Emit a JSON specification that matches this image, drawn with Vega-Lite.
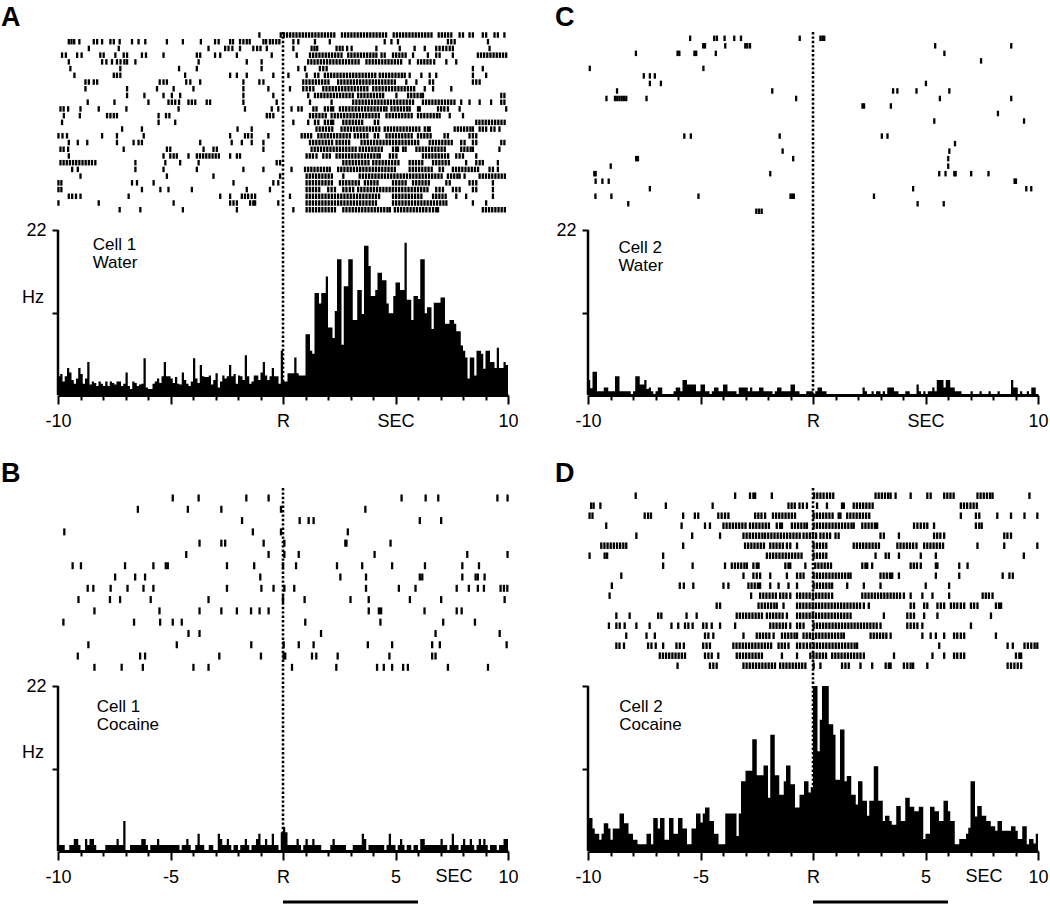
{
"$schema":"https://vega.github.io/schema/vega-lite/v6.json",
"usermeta":{"embedOptions":{"actions":false}},
"background":"white",
"padding":{"left":1,"top":3,"right":2,"bottom":2},
"config":{"view":{"stroke":null},"font":"Liberation Sans",
"axis":{"grid":false,"domainColor":"black","tickColor":"black","labelColor":"black","labelFont":"Liberation Sans","labelFontSize":18,"tickWidth":2,"labelFlush":false,"labelOverlap":false,"labelBound":false},
"axisX":{"domainWidth":3,"tickSize":{"condition":{"test":"datum.value % 5 === 0","value":9},"value":5},"labelPadding":8},
"axisY":{"domain":false,"tickSize":6,"labelPadding":6},
"title":{"font":"Liberation Sans","fontSize":27,"fontWeight":"bold","color":"black","anchor":"start"}},
"datasets":{
"hA":[{"t":-10,"h":2.5},{"t":-9.9,"h":2.8},{"t":-9.8,"h":1.8},{"t":-9.7,"h":2.5},{"t":-9.6,"h":3.6},{"t":-9.5,"h":3.0},{"t":-9.4,"h":2.0},{"t":-9.3,"h":1.5},{"t":-9.2,"h":2.2},{"t":-9.1,"h":3.6},{"t":-9,"h":2.8},{"t":-8.9,"h":1.5},{"t":-8.8,"h":2.2},{"t":-8.7,"h":4.4},{"t":-8.6,"h":1.4},{"t":-8.5,"h":1.8},{"t":-8.4,"h":1.6},{"t":-8.3,"h":1.2},{"t":-8.2,"h":1.8},{"t":-8.1,"h":1.5},{"t":-8,"h":1.2},{"t":-7.9,"h":1.8},{"t":-7.8,"h":1.2},{"t":-7.7,"h":1.8},{"t":-7.6,"h":1.6},{"t":-7.5,"h":1.4},{"t":-7.4,"h":1.8},{"t":-7.3,"h":1.8},{"t":-7.2,"h":1.2},{"t":-7.1,"h":1.5},{"t":-7,"h":3.0},{"t":-6.9,"h":1.2},{"t":-6.8,"h":0.8},{"t":-6.7,"h":1.8},{"t":-6.6,"h":1.6},{"t":-6.5,"h":1.2},{"t":-6.4,"h":1.4},{"t":-6.3,"h":1.5},{"t":-6.2,"h":4.9},{"t":-6.1,"h":1.0},{"t":-6,"h":0.8},{"t":-5.9,"h":0.8},{"t":-5.8,"h":1.5},{"t":-5.7,"h":1.8},{"t":-5.6,"h":2.2},{"t":-5.5,"h":1.6},{"t":-5.4,"h":2.5},{"t":-5.3,"h":4.4},{"t":-5.2,"h":2.5},{"t":-5.1,"h":2.5},{"t":-5,"h":2.2},{"t":-4.9,"h":1.6},{"t":-4.8,"h":2.4},{"t":-4.7,"h":1.5},{"t":-4.6,"h":1.4},{"t":-4.5,"h":3.0},{"t":-4.4,"h":2.0},{"t":-4.3,"h":1.5},{"t":-4.2,"h":1.2},{"t":-4.1,"h":1.8},{"t":-4,"h":4.9},{"t":-3.9,"h":2.2},{"t":-3.8,"h":1.6},{"t":-3.7,"h":4.0},{"t":-3.6,"h":2.5},{"t":-3.5,"h":2.4},{"t":-3.4,"h":2.4},{"t":-3.3,"h":2.6},{"t":-3.2,"h":1.4},{"t":-3.1,"h":2.0},{"t":-3,"h":2.9},{"t":-2.9,"h":1.0},{"t":-2.8,"h":1.8},{"t":-2.7,"h":2.6},{"t":-2.6,"h":2.2},{"t":-2.5,"h":2.5},{"t":-2.4,"h":4.0},{"t":-2.3,"h":2.5},{"t":-2.2,"h":2.8},{"t":-2.1,"h":1.5},{"t":-2,"h":2.6},{"t":-1.9,"h":2.5},{"t":-1.8,"h":2.0},{"t":-1.7,"h":5.3},{"t":-1.6,"h":2.5},{"t":-1.5,"h":1.5},{"t":-1.4,"h":1.8},{"t":-1.3,"h":2.6},{"t":-1.2,"h":2.6},{"t":-1.1,"h":2.0},{"t":-1,"h":3.0},{"t":-0.9,"h":4.4},{"t":-0.8,"h":2.6},{"t":-0.7,"h":2.0},{"t":-0.6,"h":2.5},{"t":-0.5,"h":3.6},{"t":-0.4,"h":2.5},{"t":-0.3,"h":2.5},{"t":-0.2,"h":1.5},{"t":-0.1,"h":5.9},
{"t":0,"h":1.8},{"t":0.1,"h":1.8},{"t":0.2,"h":2.9},{"t":0.3,"h":2.9},{"t":0.4,"h":2.9},{"t":0.5,"h":5.0},{"t":0.6,"h":2.9},{"t":0.7,"h":2.6},{"t":0.8,"h":2.6},{"t":0.9,"h":2.6},{"t":1,"h":8.1},{"t":1.1,"h":8.1},{"t":1.2,"h":5.9},{"t":1.3,"h":5.5},{"t":1.4,"h":13.6},{"t":1.5,"h":13.6},{"t":1.6,"h":12.2},{"t":1.7,"h":13.6},{"t":1.8,"h":13.6},{"t":1.9,"h":15.8},{"t":2,"h":9.0},{"t":2.1,"h":9.0},{"t":2.2,"h":7.6},{"t":2.3,"h":11.2},{"t":2.4,"h":18.1},{"t":2.5,"h":18.1},{"t":2.6,"h":6.7},{"t":2.7,"h":14.5},{"t":2.8,"h":14.5},{"t":2.9,"h":18.1},{"t":3,"h":18.1},{"t":3.1,"h":10.0},{"t":3.2,"h":10.0},{"t":3.3,"h":14.0},{"t":3.4,"h":14.0},{"t":3.5,"h":10.8},{"t":3.6,"h":19.9},{"t":3.7,"h":19.9},{"t":3.8,"h":17.2},{"t":3.9,"h":13.2},{"t":4,"h":13.2},{"t":4.1,"h":14.0},{"t":4.2,"h":16.3},{"t":4.3,"h":16.3},{"t":4.4,"h":15.3},{"t":4.5,"h":15.3},{"t":4.6,"h":12.2},{"t":4.7,"h":10.9},{"t":4.8,"h":10.9},{"t":4.9,"h":13.2},{"t":5,"h":15.0},{"t":5.1,"h":15.0},{"t":5.2,"h":14.0},{"t":5.3,"h":14.0},{"t":5.4,"h":20.3},{"t":5.5,"h":12.7},{"t":5.6,"h":12.7},{"t":5.7,"h":10.0},{"t":5.8,"h":13.2},{"t":5.9,"h":13.2},{"t":6,"h":12.8},{"t":6.1,"h":18.1},{"t":6.2,"h":18.1},{"t":6.3,"h":10.9},{"t":6.4,"h":11.7},{"t":6.5,"h":11.7},{"t":6.6,"h":8.8},{"t":6.7,"h":12.3},{"t":6.8,"h":12.3},{"t":6.9,"h":12.3},{"t":7,"h":13.0},{"t":7.1,"h":13.0},{"t":7.2,"h":9.5},{"t":7.3,"h":9.5},{"t":7.4,"h":10.0},{"t":7.5,"h":10.0},{"t":7.6,"h":9.5},{"t":7.7,"h":8.5},{"t":7.8,"h":8.5},{"t":7.9,"h":6.6},{"t":8,"h":5.9},{"t":8.1,"h":5.0},{"t":8.2,"h":2.2},{"t":8.3,"h":5.0},{"t":8.4,"h":5.0},{"t":8.5,"h":2.6},{"t":8.6,"h":5.9},{"t":8.7,"h":5.9},{"t":8.8,"h":5.5},{"t":8.9,"h":3.5},{"t":9,"h":5.9},{"t":9.1,"h":5.9},{"t":9.2,"h":4.4},{"t":9.3,"h":4.4},{"t":9.4,"h":3.6},{"t":9.5,"h":6.3},{"t":9.6,"h":3.6},{"t":9.7,"h":3.6},{"t":9.8,"h":4.4},{"t":9.9,"h":4.0},{"t":10,"h":4.0}],
"hB":[{"t":-10,"h":0.8},{"t":-9.9,"h":0.8},{"t":-9.8,"h":0.8},{"t":-9.7,"h":0},{"t":-9.6,"h":0},{"t":-9.5,"h":0.8},{"t":-9.4,"h":0.8},{"t":-9.3,"h":1.6},{"t":-9.2,"h":1.6},{"t":-9.1,"h":0.8},{"t":-9,"h":0},{"t":-8.9,"h":0},{"t":-8.8,"h":1.6},{"t":-8.7,"h":0.8},{"t":-8.6,"h":1.6},{"t":-8.5,"h":1.6},{"t":-8.4,"h":0.8},{"t":-8.3,"h":0},{"t":-8.2,"h":0},{"t":-8.1,"h":0},{"t":-8,"h":0},{"t":-7.9,"h":0.8},{"t":-7.8,"h":0.8},{"t":-7.7,"h":0.8},{"t":-7.6,"h":0.8},{"t":-7.5,"h":0.8},{"t":-7.4,"h":1.6},{"t":-7.3,"h":0.8},{"t":-7.2,"h":0.8},{"t":-7.1,"h":4.0},{"t":-7,"h":0},{"t":-6.9,"h":0},{"t":-6.8,"h":0.8},{"t":-6.7,"h":0.8},{"t":-6.6,"h":0.8},{"t":-6.5,"h":0.8},{"t":-6.4,"h":0.8},{"t":-6.3,"h":1.6},{"t":-6.2,"h":1.6},{"t":-6.1,"h":0.8},{"t":-6,"h":0},{"t":-5.9,"h":0.8},{"t":-5.8,"h":0.8},{"t":-5.7,"h":0.8},{"t":-5.6,"h":1.6},{"t":-5.5,"h":0.8},{"t":-5.4,"h":0.8},{"t":-5.3,"h":0.8},{"t":-5.2,"h":0.8},{"t":-5.1,"h":0.8},{"t":-5,"h":0.8},{"t":-4.9,"h":0.8},{"t":-4.8,"h":0.8},{"t":-4.7,"h":0.8},{"t":-4.6,"h":0},{"t":-4.5,"h":0.8},{"t":-4.4,"h":0.8},{"t":-4.3,"h":1.6},{"t":-4.2,"h":0.8},{"t":-4.1,"h":0},{"t":-4,"h":0},{"t":-3.9,"h":0.8},{"t":-3.8,"h":2.3},{"t":-3.7,"h":0.8},{"t":-3.6,"h":0.8},{"t":-3.5,"h":0},{"t":-3.4,"h":0},{"t":-3.3,"h":0.8},{"t":-3.2,"h":0.8},{"t":-3.1,"h":0},{"t":-3,"h":0},{"t":-2.9,"h":2.3},{"t":-2.8,"h":1.6},{"t":-2.7,"h":0.8},{"t":-2.6,"h":0.8},{"t":-2.5,"h":1.6},{"t":-2.4,"h":0.8},{"t":-2.3,"h":0},{"t":-2.2,"h":0.8},{"t":-2.1,"h":0.8},{"t":-2,"h":0},{"t":-1.9,"h":0.8},{"t":-1.8,"h":0.8},{"t":-1.7,"h":1.6},{"t":-1.6,"h":0.8},{"t":-1.5,"h":0},{"t":-1.4,"h":0.8},{"t":-1.3,"h":0.8},{"t":-1.2,"h":1.6},{"t":-1.1,"h":2.3},{"t":-1,"h":0.8},{"t":-0.9,"h":0.8},{"t":-0.8,"h":1.6},{"t":-0.7,"h":0.8},{"t":-0.6,"h":0.8},{"t":-0.5,"h":2.3},{"t":-0.4,"h":0.8},{"t":-0.3,"h":0.8},{"t":-0.2,"h":0},{"t":-0.1,"h":2.5},
{"t":0,"h":3.2},{"t":0.1,"h":2.5},{"t":0.2,"h":0.8},{"t":0.3,"h":0.8},{"t":0.4,"h":0.8},{"t":0.5,"h":0.8},{"t":0.6,"h":1.6},{"t":0.7,"h":0.8},{"t":0.8,"h":0},{"t":0.9,"h":0.8},{"t":1,"h":1.6},{"t":1.1,"h":0.8},{"t":1.2,"h":0.8},{"t":1.3,"h":1.6},{"t":1.4,"h":0.8},{"t":1.5,"h":0.8},{"t":1.6,"h":0.8},{"t":1.7,"h":0},{"t":1.8,"h":0},{"t":1.9,"h":0},{"t":2,"h":0},{"t":2.1,"h":0.8},{"t":2.2,"h":1.6},{"t":2.3,"h":0.8},{"t":2.4,"h":0.8},{"t":2.5,"h":0.8},{"t":2.6,"h":0.8},{"t":2.7,"h":0.8},{"t":2.8,"h":0},{"t":2.9,"h":0},{"t":3,"h":0},{"t":3.1,"h":0.8},{"t":3.2,"h":0.8},{"t":3.3,"h":0.8},{"t":3.4,"h":0.8},{"t":3.5,"h":2.3},{"t":3.6,"h":1.6},{"t":3.7,"h":0},{"t":3.8,"h":0.8},{"t":3.9,"h":0.8},{"t":4,"h":0.8},{"t":4.1,"h":0.8},{"t":4.2,"h":0.8},{"t":4.3,"h":0.8},{"t":4.4,"h":0.8},{"t":4.5,"h":0},{"t":4.6,"h":0.8},{"t":4.7,"h":2.3},{"t":4.8,"h":0.8},{"t":4.9,"h":0.8},{"t":5,"h":0},{"t":5.1,"h":0.8},{"t":5.2,"h":1.6},{"t":5.3,"h":0.8},{"t":5.4,"h":0},{"t":5.5,"h":0.8},{"t":5.6,"h":0.8},{"t":5.7,"h":0},{"t":5.8,"h":0.8},{"t":5.9,"h":0.8},{"t":6,"h":0},{"t":6.1,"h":1.6},{"t":6.2,"h":1.6},{"t":6.3,"h":0.8},{"t":6.4,"h":0.8},{"t":6.5,"h":0.8},{"t":6.6,"h":0.8},{"t":6.7,"h":0.8},{"t":6.8,"h":0.8},{"t":6.9,"h":0.8},{"t":7,"h":1.6},{"t":7.1,"h":0.8},{"t":7.2,"h":0.8},{"t":7.3,"h":0},{"t":7.4,"h":0.8},{"t":7.5,"h":2.3},{"t":7.6,"h":0.8},{"t":7.7,"h":0.8},{"t":7.8,"h":0},{"t":7.9,"h":0.8},{"t":8,"h":1.6},{"t":8.1,"h":0.8},{"t":8.2,"h":0.8},{"t":8.3,"h":1.6},{"t":8.4,"h":0.8},{"t":8.5,"h":0},{"t":8.6,"h":0.8},{"t":8.7,"h":1.6},{"t":8.8,"h":0.8},{"t":8.9,"h":1.6},{"t":9,"h":0.8},{"t":9.1,"h":0},{"t":9.2,"h":0.8},{"t":9.3,"h":0.8},{"t":9.4,"h":0.8},{"t":9.5,"h":0},{"t":9.6,"h":0.8},{"t":9.7,"h":0.8},{"t":9.8,"h":1.6},{"t":9.9,"h":1.6},{"t":10,"h":1.6}],
"hC":[{"t":-10,"h":2.0},{"t":-9.9,"h":0.9},{"t":-9.8,"h":3.1},{"t":-9.7,"h":3.1},{"t":-9.6,"h":0.5},{"t":-9.5,"h":0.5},{"t":-9.4,"h":0.5},{"t":-9.3,"h":1.0},{"t":-9.2,"h":1.0},{"t":-9.1,"h":0.5},{"t":-9,"h":0.5},{"t":-8.9,"h":0.5},{"t":-8.8,"h":2.5},{"t":-8.7,"h":2.5},{"t":-8.6,"h":0.5},{"t":-8.5,"h":0.5},{"t":-8.4,"h":0.5},{"t":-8.3,"h":0.5},{"t":-8.2,"h":0.5},{"t":-8.1,"h":0},{"t":-8,"h":0.5},{"t":-7.9,"h":2.5},{"t":-7.8,"h":2.5},{"t":-7.7,"h":1.4},{"t":-7.6,"h":1.4},{"t":-7.5,"h":2.0},{"t":-7.4,"h":0.8},{"t":-7.3,"h":1.0},{"t":-7.2,"h":0.5},{"t":-7.1,"h":0},{"t":-7,"h":0.5},{"t":-6.9,"h":1.0},{"t":-6.8,"h":1.0},{"t":-6.7,"h":0},{"t":-6.6,"h":0},{"t":-6.5,"h":0},{"t":-6.4,"h":0},{"t":-6.3,"h":0},{"t":-6.2,"h":0.5},{"t":-6.1,"h":1.0},{"t":-6,"h":1.0},{"t":-5.9,"h":0.5},{"t":-5.8,"h":2.0},{"t":-5.7,"h":2.0},{"t":-5.6,"h":1.4},{"t":-5.5,"h":1.4},{"t":-5.4,"h":1.4},{"t":-5.3,"h":1.4},{"t":-5.2,"h":0.5},{"t":-5.1,"h":0.5},{"t":-5,"h":1.4},{"t":-4.9,"h":1.4},{"t":-4.8,"h":0.5},{"t":-4.7,"h":0.5},{"t":-4.6,"h":0},{"t":-4.5,"h":0.5},{"t":-4.4,"h":1.0},{"t":-4.3,"h":1.0},{"t":-4.2,"h":0.5},{"t":-4.1,"h":0.5},{"t":-4,"h":1.4},{"t":-3.9,"h":1.4},{"t":-3.8,"h":0.5},{"t":-3.7,"h":0.5},{"t":-3.6,"h":0.5},{"t":-3.5,"h":0.5},{"t":-3.4,"h":0},{"t":-3.3,"h":1.0},{"t":-3.2,"h":1.0},{"t":-3.1,"h":1.0},{"t":-3,"h":1.0},{"t":-2.9,"h":0.5},{"t":-2.8,"h":1.0},{"t":-2.7,"h":0.5},{"t":-2.6,"h":0.5},{"t":-2.5,"h":0.5},{"t":-2.4,"h":1.0},{"t":-2.3,"h":1.0},{"t":-2.2,"h":0.5},{"t":-2.1,"h":0.5},{"t":-2,"h":0.5},{"t":-1.9,"h":0.5},{"t":-1.8,"h":0},{"t":-1.7,"h":0.5},{"t":-1.6,"h":1.0},{"t":-1.5,"h":1.0},{"t":-1.4,"h":0.5},{"t":-1.3,"h":0.5},{"t":-1.2,"h":0.5},{"t":-1.1,"h":0.5},{"t":-1,"h":1.4},{"t":-0.9,"h":1.4},{"t":-0.8,"h":0.5},{"t":-0.7,"h":0.5},{"t":-0.6,"h":0},{"t":-0.5,"h":0},{"t":-0.4,"h":0},{"t":-0.3,"h":0.5},{"t":-0.2,"h":0.5},{"t":-0.1,"h":0.5},
{"t":0,"h":0},{"t":0.1,"h":0.5},{"t":0.2,"h":1.0},{"t":0.3,"h":1.0},{"t":0.4,"h":0.5},{"t":0.5,"h":0.5},{"t":0.6,"h":0},{"t":0.7,"h":0},{"t":0.8,"h":0},{"t":0.9,"h":0},{"t":1,"h":0},{"t":1.1,"h":0},{"t":1.2,"h":0},{"t":1.3,"h":0},{"t":1.4,"h":0},{"t":1.5,"h":0},{"t":1.6,"h":0},{"t":1.7,"h":0},{"t":1.8,"h":0},{"t":1.9,"h":0},{"t":2,"h":0},{"t":2.1,"h":0},{"t":2.2,"h":1.0},{"t":2.3,"h":0.5},{"t":2.4,"h":0},{"t":2.5,"h":0},{"t":2.6,"h":0.5},{"t":2.7,"h":0},{"t":2.8,"h":0.5},{"t":2.9,"h":0.5},{"t":3,"h":0},{"t":3.1,"h":0.5},{"t":3.2,"h":0},{"t":3.3,"h":1.0},{"t":3.4,"h":1.0},{"t":3.5,"h":1.0},{"t":3.6,"h":0.5},{"t":3.7,"h":0.5},{"t":3.8,"h":0},{"t":3.9,"h":0},{"t":4,"h":0},{"t":4.1,"h":0.5},{"t":4.2,"h":0.5},{"t":4.3,"h":0},{"t":4.4,"h":0},{"t":4.5,"h":0},{"t":4.6,"h":1.4},{"t":4.7,"h":0.5},{"t":4.8,"h":0},{"t":4.9,"h":0.5},{"t":5,"h":0},{"t":5.1,"h":0.5},{"t":5.2,"h":0.5},{"t":5.3,"h":1.0},{"t":5.4,"h":0.5},{"t":5.5,"h":2.0},{"t":5.6,"h":2.0},{"t":5.7,"h":2.0},{"t":5.8,"h":1.0},{"t":5.9,"h":2.0},{"t":6,"h":2.0},{"t":6.1,"h":1.0},{"t":6.2,"h":1.0},{"t":6.3,"h":0.5},{"t":6.4,"h":0.5},{"t":6.5,"h":0.5},{"t":6.6,"h":0},{"t":6.7,"h":0},{"t":6.8,"h":0},{"t":6.9,"h":0},{"t":7,"h":0.5},{"t":7.1,"h":0},{"t":7.2,"h":0},{"t":7.3,"h":0},{"t":7.4,"h":0.5},{"t":7.5,"h":0},{"t":7.6,"h":0},{"t":7.7,"h":0},{"t":7.8,"h":0.5},{"t":7.9,"h":0},{"t":8,"h":0},{"t":8.1,"h":0},{"t":8.2,"h":0.5},{"t":8.3,"h":0},{"t":8.4,"h":0},{"t":8.5,"h":0},{"t":8.6,"h":0},{"t":8.7,"h":0},{"t":8.8,"h":2.0},{"t":8.9,"h":1.0},{"t":9,"h":1.0},{"t":9.1,"h":0},{"t":9.2,"h":0.5},{"t":9.3,"h":0},{"t":9.4,"h":0},{"t":9.5,"h":0.5},{"t":9.6,"h":0},{"t":9.7,"h":1.0},{"t":9.8,"h":1.0},{"t":9.9,"h":0},{"t":10,"h":0}],
"hD":[{"t":-10,"h":4.4},{"t":-9.9,"h":4.4},{"t":-9.8,"h":3.0},{"t":-9.7,"h":2.3},{"t":-9.6,"h":2.3},{"t":-9.5,"h":1.5},{"t":-9.4,"h":2.3},{"t":-9.3,"h":3.7},{"t":-9.2,"h":3.7},{"t":-9.1,"h":3.0},{"t":-9,"h":1.5},{"t":-8.9,"h":3.0},{"t":-8.8,"h":3.0},{"t":-8.7,"h":3.0},{"t":-8.6,"h":5.0},{"t":-8.5,"h":5.0},{"t":-8.4,"h":3.7},{"t":-8.3,"h":3.7},{"t":-8.2,"h":2.3},{"t":-8.1,"h":2.3},{"t":-8,"h":1.5},{"t":-7.9,"h":1.5},{"t":-7.8,"h":0.9},{"t":-7.7,"h":0.9},{"t":-7.6,"h":0.9},{"t":-7.5,"h":0.9},{"t":-7.4,"h":2.3},{"t":-7.3,"h":2.3},{"t":-7.2,"h":0.9},{"t":-7.1,"h":4.4},{"t":-7,"h":4.4},{"t":-6.9,"h":3.0},{"t":-6.8,"h":4.4},{"t":-6.7,"h":4.4},{"t":-6.6,"h":1.5},{"t":-6.5,"h":1.5},{"t":-6.4,"h":4.4},{"t":-6.3,"h":4.4},{"t":-6.2,"h":2.3},{"t":-6.1,"h":2.3},{"t":-6,"h":4.4},{"t":-5.9,"h":4.4},{"t":-5.8,"h":3.0},{"t":-5.7,"h":3.0},{"t":-5.6,"h":0.9},{"t":-5.5,"h":0.9},{"t":-5.4,"h":3.0},{"t":-5.3,"h":3.0},{"t":-5.2,"h":5.0},{"t":-5.1,"h":5.0},{"t":-5,"h":3.8},{"t":-4.9,"h":5.0},{"t":-4.8,"h":5.8},{"t":-4.7,"h":5.8},{"t":-4.6,"h":4.0},{"t":-4.5,"h":4.0},{"t":-4.4,"h":2.3},{"t":-4.3,"h":2.3},{"t":-4.2,"h":0.9},{"t":-4.1,"h":0.9},{"t":-4,"h":0.9},{"t":-3.9,"h":5.0},{"t":-3.8,"h":5.0},{"t":-3.7,"h":5.0},{"t":-3.6,"h":5.0},{"t":-3.5,"h":5.0},{"t":-3.4,"h":2.0},{"t":-3.3,"h":5.0},{"t":-3.2,"h":9.3},{"t":-3.1,"h":9.3},{"t":-3,"h":10.7},{"t":-2.9,"h":10.7},{"t":-2.8,"h":10.7},{"t":-2.7,"h":14.9},{"t":-2.6,"h":14.9},{"t":-2.5,"h":10.1},{"t":-2.4,"h":10.1},{"t":-2.3,"h":10.1},{"t":-2.2,"h":11.4},{"t":-2.1,"h":11.4},{"t":-2,"h":7.1},{"t":-1.9,"h":15.5},{"t":-1.8,"h":15.5},{"t":-1.7,"h":10.1},{"t":-1.6,"h":10.1},{"t":-1.5,"h":7.5},{"t":-1.4,"h":7.5},{"t":-1.3,"h":9.3},{"t":-1.2,"h":11.4},{"t":-1.1,"h":11.4},{"t":-1,"h":8.9},{"t":-0.9,"h":8.9},{"t":-0.8,"h":5.8},{"t":-0.7,"h":5.8},{"t":-0.6,"h":7.5},{"t":-0.5,"h":7.5},{"t":-0.4,"h":9.3},{"t":-0.3,"h":9.3},{"t":-0.2,"h":7.8},{"t":-0.1,"h":8.5},
{"t":0,"h":22},{"t":0.1,"h":22},{"t":0.2,"h":13.3},{"t":0.3,"h":17.5},{"t":0.4,"h":22},{"t":0.5,"h":22},{"t":0.6,"h":22},{"t":0.7,"h":16.9},{"t":0.8,"h":16.9},{"t":0.9,"h":15.5},{"t":1,"h":9.5},{"t":1.1,"h":9.5},{"t":1.2,"h":16.2},{"t":1.3,"h":16.2},{"t":1.4,"h":9.3},{"t":1.5,"h":10.0},{"t":1.6,"h":10.0},{"t":1.7,"h":7.5},{"t":1.8,"h":7.5},{"t":1.9,"h":6.2},{"t":2,"h":9.3},{"t":2.1,"h":9.3},{"t":2.2,"h":6.7},{"t":2.3,"h":6.7},{"t":2.4,"h":4.7},{"t":2.5,"h":6.7},{"t":2.6,"h":6.7},{"t":2.7,"h":11.3},{"t":2.8,"h":11.3},{"t":2.9,"h":6.7},{"t":3,"h":6.7},{"t":3.1,"h":4.0},{"t":3.2,"h":4.7},{"t":3.3,"h":4.7},{"t":3.4,"h":4.0},{"t":3.5,"h":3.5},{"t":3.6,"h":3.5},{"t":3.7,"h":6.0},{"t":3.8,"h":6.0},{"t":3.9,"h":4.0},{"t":4,"h":4.0},{"t":4.1,"h":7.1},{"t":4.2,"h":7.1},{"t":4.3,"h":5.9},{"t":4.4,"h":5.9},{"t":4.5,"h":5.3},{"t":4.6,"h":5.3},{"t":4.7,"h":5.9},{"t":4.8,"h":5.9},{"t":4.9,"h":1.6},{"t":5,"h":2.3},{"t":5.1,"h":2.3},{"t":5.2,"h":5.9},{"t":5.3,"h":5.9},{"t":5.4,"h":5.3},{"t":5.5,"h":5.3},{"t":5.6,"h":4.0},{"t":5.7,"h":4.0},{"t":5.8,"h":6.7},{"t":5.9,"h":6.7},{"t":6,"h":5.3},{"t":6.1,"h":4.0},{"t":6.2,"h":4.0},{"t":6.3,"h":0.9},{"t":6.4,"h":0.9},{"t":6.5,"h":1.6},{"t":6.6,"h":1.6},{"t":6.7,"h":1.6},{"t":6.8,"h":2.3},{"t":6.9,"h":3.1},{"t":7,"h":9.3},{"t":7.1,"h":9.3},{"t":7.2,"h":4.6},{"t":7.3,"h":6.0},{"t":7.4,"h":6.0},{"t":7.5,"h":4.7},{"t":7.6,"h":4.7},{"t":7.7,"h":4.0},{"t":7.8,"h":4.0},{"t":7.9,"h":3.3},{"t":8,"h":3.3},{"t":8.1,"h":2.7},{"t":8.2,"h":4.0},{"t":8.3,"h":4.0},{"t":8.4,"h":2.7},{"t":8.5,"h":2.7},{"t":8.6,"h":2.7},{"t":8.7,"h":2.7},{"t":8.8,"h":3.3},{"t":8.9,"h":3.3},{"t":9,"h":2.7},{"t":9.1,"h":1.6},{"t":9.2,"h":1.6},{"t":9.3,"h":3.3},{"t":9.4,"h":3.3},{"t":9.5,"h":0.9},{"t":9.6,"h":1.6},{"t":9.7,"h":1.6},{"t":9.8,"h":1.0},{"t":9.9,"h":2.3},{"t":10,"h":2.3}],
"rB":[{"r":1,"t":-4.9},{"r":1,"t":-3.75},{"r":1,"t":-1.63},{"r":1,"t":-0.64},{"r":1,"t":5.27},{"r":1,"t":6.34},{"r":1,"t":6.9},{"r":1,"t":9.53},{"r":1,"t":9.98},
{"r":2,"t":-6.45},{"r":2,"t":-4.23},{"r":2,"t":-2.74},{"r":2,"t":-0.09},{"r":2,"t":3.66},
{"r":3,"t":-1.82},{"r":3,"t":0.74},{"r":3,"t":1.14},{"r":3,"t":1.36},{"r":3,"t":6.08},{"r":3,"t":7.03},
{"r":4,"t":-9.72},{"r":4,"t":-1.34},{"r":4,"t":-0.09},{"r":4,"t":2.88},
{"r":5,"t":-3.71},{"r":5,"t":-2.74},{"r":5,"t":-2.57},{"r":5,"t":-0.86},{"r":5,"t":0.06},{"r":5,"t":2.77},{"r":5,"t":2.82},{"r":5,"t":4.78},
{"r":6,"t":-4.3},{"r":6,"t":-0.64},{"r":6,"t":0.06},{"r":6,"t":0.7},{"r":6,"t":4.07},{"r":6,"t":8.19},{"r":6,"t":9.98},
{"r":7,"t":-9.35},{"r":7,"t":-8.98},{"r":7,"t":-7.02},{"r":7,"t":-5.76},{"r":7,"t":-5.21},{"r":7,"t":-5.12},{"r":7,"t":-2.49},{"r":7,"t":-1.28},{"r":7,"t":0},{"r":7,"t":0.58},{"r":7,"t":2.4},{"r":7,"t":3.52},{"r":7,"t":4.85},{"r":7,"t":6.31},{"r":7,"t":7.97},{"r":7,"t":8.71},
{"r":8,"t":-7.46},{"r":8,"t":-6.57},{"r":8,"t":-6.13},{"r":8,"t":-1.01},{"r":8,"t":2.55},{"r":8,"t":3.69},{"r":8,"t":6.08},{"r":8,"t":6.19},{"r":8,"t":7.97},{"r":8,"t":8.56},{"r":8,"t":8.66},{"r":8,"t":8.96},
{"r":9,"t":-8.68},{"r":9,"t":-8.43},{"r":9,"t":-7.66},{"r":9,"t":-6.91},{"r":9,"t":-6.2},{"r":9,"t":-5.76},{"r":9,"t":-2.49},{"r":9,"t":-0.96},{"r":9,"t":-0.42},{"r":9,"t":0.06},{"r":9,"t":0.5},{"r":9,"t":3.69},{"r":9,"t":5.15},{"r":9,"t":5.89},{"r":9,"t":7.72},{"r":9,"t":8.26},{"r":9,"t":8.66},{"r":9,"t":8.93},{"r":9,"t":9.67},{"r":9,"t":9.82},{"r":9,"t":9.97},
{"r":10,"t":-9.09},{"r":10,"t":-7.69},{"r":10,"t":-7.24},{"r":10,"t":-5.88},{"r":10,"t":-3.31},{"r":10,"t":0},{"r":10,"t":0.96},{"r":10,"t":3.0},{"r":10,"t":3.81},{"r":10,"t":5.64},{"r":10,"t":7.03},{"r":10,"t":9.85},
{"r":11,"t":-8.38},{"r":11,"t":-5.49},{"r":11,"t":-3.71},{"r":11,"t":-2.74},{"r":11,"t":-2.05},{"r":11,"t":-1.42},{"r":11,"t":-1.04},{"r":11,"t":-0.64},{"r":11,"t":3.81},{"r":11,"t":4.26},{"r":11,"t":4.36},{"r":11,"t":6.29},{"r":11,"t":7.72},{"r":11,"t":7.94},
{"r":12,"t":-9.76},{"r":12,"t":-6.62},{"r":12,"t":-5.46},{"r":12,"t":-4.9},{"r":12,"t":-4.5},{"r":12,"t":0.99},{"r":12,"t":4.33},{"r":12,"t":7.12},{"r":12,"t":8.53},
{"r":13,"t":-4.2},{"r":13,"t":-3.71},{"r":13,"t":1.69},{"r":13,"t":6.78},{"r":13,"t":9.63},
{"r":14,"t":-8.65},{"r":14,"t":-4.72},{"r":14,"t":-1.41},{"r":14,"t":0.03},{"r":14,"t":0.7},{"r":14,"t":1.36},{"r":14,"t":3.77},{"r":14,"t":4.85},{"r":14,"t":6.63},{"r":14,"t":6.97},{"r":14,"t":9.94},
{"r":15,"t":-9.12},{"r":15,"t":-6.35},{"r":15,"t":-6.13},{"r":15,"t":-2.83},{"r":15,"t":-0.98},{"r":15,"t":0.03},{"r":15,"t":0.1},{"r":15,"t":1.29},{"r":15,"t":1.48},{"r":15,"t":2.43},{"r":15,"t":4.73},{"r":15,"t":6.63},{"r":15,"t":6.78},
{"r":16,"t":-8.38},{"r":16,"t":-7.17},{"r":16,"t":-6.23},{"r":16,"t":-3.98},{"r":16,"t":-3.31},{"r":16,"t":0.4},{"r":16,"t":2.37},{"r":16,"t":4.18},{"r":16,"t":4.48},{"r":16,"t":4.85},{"r":16,"t":5.34},{"r":16,"t":5.55},{"r":16,"t":7.33},{"r":16,"t":9.11}],
"rC":[{"r":1,"t":-5.46},{"r":1,"t":-4.39},{"r":1,"t":-4.27},{"r":1,"t":-3.93},{"r":1,"t":-3.5},{"r":1,"t":-3.2},{"r":1,"t":-0.59},{"r":1,"t":0.33},{"r":1,"t":0.42},{"r":1,"t":0.5},
{"r":2,"t":-4.88},{"r":2,"t":-4.8},{"r":2,"t":-3.9},{"r":2,"t":-3.01},{"r":2,"t":-2.92},{"r":2,"t":-2.8},{"r":2,"t":5.43},{"r":2,"t":8.81},
{"r":3,"t":-7.87},{"r":3,"t":-6.02},{"r":3,"t":-5.94},{"r":3,"t":-5.27},{"r":3,"t":-5.19},{"r":3,"t":-4.32},{"r":3,"t":5.84},
{"r":4,"t":7.47},
{"r":5,"t":-9.92},{"r":5,"t":-4.87},
{"r":6,"t":-7.52},{"r":6,"t":-7.25},{"r":6,"t":-7.03},
{"r":7,"t":-7.25},{"r":7,"t":-6.76},{"r":7,"t":5.02},
{"r":8,"t":-8.71},{"r":8,"t":-1.81},{"r":8,"t":3.56},{"r":8,"t":3.75},{"r":8,"t":4.6},{"r":8,"t":6.06},
{"r":9,"t":-9.18},{"r":9,"t":-8.8},{"r":9,"t":-8.7},{"r":9,"t":-8.6},{"r":9,"t":-8.5},{"r":9,"t":-8.4},{"r":9,"t":-8.3},{"r":9,"t":-7.4},{"r":9,"t":-0.75},{"r":9,"t":5.64},{"r":9,"t":8.81},
{"r":10,"t":2.2},{"r":10,"t":2.27},{"r":10,"t":3.46},
{"r":11,"t":8.22},
{"r":12,"t":5.39},{"r":12,"t":9.38},
{"r":14,"t":-5.72},{"r":14,"t":-5.43},{"r":14,"t":-1.48},{"r":14,"t":3.06},{"r":14,"t":3.31},
{"r":15,"t":6.31},
{"r":16,"t":-1.35},{"r":16,"t":6.06},
{"r":17,"t":-7.86},{"r":17,"t":-7.78},{"r":17,"t":-0.88},{"r":17,"t":6.01},
{"r":18,"t":-8.99},{"r":18,"t":6.01},
{"r":19,"t":-9.72},{"r":19,"t":-9.66},{"r":19,"t":-1.9},{"r":19,"t":5.61},{"r":19,"t":5.89},{"r":19,"t":6.28},{"r":19,"t":6.34},{"r":19,"t":7.03},{"r":19,"t":7.8},
{"r":20,"t":-9.66},{"r":20,"t":-9.36},{"r":20,"t":-9.08},{"r":20,"t":8.96},{"r":20,"t":9.02},
{"r":21,"t":-7.25},{"r":21,"t":4.45},{"r":21,"t":9.48},{"r":21,"t":9.7},
{"r":22,"t":-9.67},{"r":22,"t":-8.96},{"r":22,"t":-5.09},{"r":22,"t":-1.0},{"r":22,"t":-0.92},{"r":22,"t":-0.85},{"r":22,"t":2.71},
{"r":23,"t":-8.21},{"r":23,"t":4.65},{"r":23,"t":5.81},
{"r":24,"t":-2.52},{"r":24,"t":-2.4},{"r":24,"t":-2.28}],
"rD":[{"r":1,"t":-7.88},{"r":1,"t":-3.46},{"r":1,"t":-2.8},{"r":1,"t":-2.65},{"r":1,"t":-2.57},{"r":1,"t":-1.83},{"r":1,"t":0.05},{"r":1,"t":0.19},{"r":1,"t":0.33},{"r":1,"t":0.47},{"r":1,"t":0.62},{"r":1,"t":0.76},{"r":1,"t":0.9},{"r":1,"t":2.78},{"r":1,"t":2.92},{"r":1,"t":3.06},{"r":1,"t":3.2},{"r":1,"t":3.34},{"r":1,"t":3.45},{"r":1,"t":3.67},{"r":1,"t":4.34},{"r":1,"t":5.08},{"r":1,"t":5.23},{"r":1,"t":5.83},{"r":1,"t":5.97},{"r":1,"t":6.11},{"r":1,"t":6.25},{"r":1,"t":7.31},{"r":1,"t":7.45},{"r":1,"t":7.59},{"r":1,"t":7.73},{"r":1,"t":7.87},{"r":1,"t":7.98},{"r":1,"t":9.62},
{"r":2,"t":-9.86},{"r":2,"t":-9.75},{"r":2,"t":-9.45},{"r":2,"t":-6.54},{"r":2,"t":-4.46},{"r":2,"t":-1.09},{"r":2,"t":-0.95},{"r":2,"t":-0.81},{"r":2,"t":-0.6},{"r":2,"t":-0.45},{"r":2,"t":-0.27},{"r":2,"t":0.18},{"r":2,"t":0.62},{"r":2,"t":1.29},{"r":2,"t":1.37},{"r":2,"t":1.81},{"r":2,"t":1.95},{"r":2,"t":2.09},{"r":2,"t":2.23},{"r":2,"t":2.37},{"r":2,"t":2.51},{"r":2,"t":2.65},{"r":2,"t":6.57},{"r":2,"t":6.71},{"r":2,"t":6.85},{"r":2,"t":7.0},{"r":2,"t":7.14},{"r":2,"t":7.28},
{"r":3,"t":-9.93},{"r":3,"t":-9.8},{"r":3,"t":-7.48},{"r":3,"t":-7.33},{"r":3,"t":-7.2},{"r":3,"t":-5.77},{"r":3,"t":-5.25},{"r":3,"t":-5.1},{"r":3,"t":-4.21},{"r":3,"t":-4.06},{"r":3,"t":-3.91},{"r":3,"t":-3.76},{"r":3,"t":-2.57},{"r":3,"t":-2.43},{"r":3,"t":-2.29},{"r":3,"t":-2.13},{"r":3,"t":-1.78},{"r":3,"t":-1.64},{"r":3,"t":-1.5},{"r":3,"t":-1.36},{"r":3,"t":-1.22},{"r":3,"t":-1.08},{"r":3,"t":-0.94},{"r":3,"t":-0.8},{"r":3,"t":0.03},{"r":3,"t":0.17},{"r":3,"t":0.31},{"r":3,"t":0.45},{"r":3,"t":0.59},{"r":3,"t":0.73},{"r":3,"t":0.87},{"r":3,"t":1.14},{"r":3,"t":1.22},{"r":3,"t":1.52},{"r":3,"t":1.66},{"r":3,"t":1.8},{"r":3,"t":1.94},{"r":3,"t":2.08},{"r":3,"t":2.22},{"r":3,"t":2.36},{"r":3,"t":2.5},{"r":3,"t":6.57},{"r":3,"t":7.24},{"r":3,"t":7.39},{"r":3,"t":8.19},{"r":3,"t":8.8},{"r":3,"t":9.4},{"r":3,"t":9.97},
{"r":4,"t":-9.19},{"r":4,"t":-5.84},{"r":4,"t":-4.8},{"r":4,"t":-4.58},{"r":4,"t":-3.98},{"r":4,"t":-3.84},{"r":4,"t":-3.7},{"r":4,"t":-3.56},{"r":4,"t":-3.42},{"r":4,"t":-3.28},{"r":4,"t":-3.14},{"r":4,"t":-3.0},{"r":4,"t":-2.8},{"r":4,"t":-2.66},{"r":4,"t":-2.52},{"r":4,"t":-2.38},{"r":4,"t":-2.24},{"r":4,"t":-2.1},{"r":4,"t":-1.96},{"r":4,"t":-1.61},{"r":4,"t":-1.46},{"r":4,"t":-1.38},{"r":4,"t":-0.94},{"r":4,"t":-0.8},{"r":4,"t":-0.66},{"r":4,"t":-0.52},{"r":4,"t":-0.38},{"r":4,"t":-0.27},{"r":4,"t":0.03},{"r":4,"t":0.17},{"r":4,"t":0.31},{"r":4,"t":0.45},{"r":4,"t":0.59},{"r":4,"t":0.73},{"r":4,"t":0.87},{"r":4,"t":1.01},{"r":4,"t":1.15},{"r":4,"t":1.29},{"r":4,"t":1.43},{"r":4,"t":1.57},{"r":4,"t":1.71},{"r":4,"t":1.81},{"r":4,"t":2.19},{"r":4,"t":2.33},{"r":4,"t":2.47},{"r":4,"t":2.61},{"r":4,"t":2.75},{"r":4,"t":2.85},{"r":4,"t":4.49},{"r":4,"t":4.64},{"r":4,"t":4.79},{"r":4,"t":4.94},{"r":4,"t":5.08},{"r":4,"t":5.38},{"r":4,"t":7.24},{"r":4,"t":7.39},{"r":4,"t":7.5},
{"r":5,"t":-7.85},{"r":5,"t":-5.37},{"r":5,"t":-4.13},{"r":5,"t":-3.09},{"r":5,"t":-2.95},{"r":5,"t":-2.81},{"r":5,"t":-2.67},{"r":5,"t":-2.53},{"r":5,"t":-2.39},{"r":5,"t":-2.25},{"r":5,"t":-2.13},{"r":5,"t":-1.99},{"r":5,"t":-1.85},{"r":5,"t":-1.71},{"r":5,"t":-1.57},{"r":5,"t":-1.43},{"r":5,"t":-1.29},{"r":5,"t":-1.15},{"r":5,"t":-1.01},{"r":5,"t":-0.87},{"r":5,"t":-0.73},{"r":5,"t":-0.59},{"r":5,"t":-0.42},{"r":5,"t":-0.28},{"r":5,"t":-0.14},{"r":5,"t":0.0},{"r":5,"t":0.14},{"r":5,"t":0.33},{"r":5,"t":0.47},{"r":5,"t":0.62},{"r":5,"t":0.76},{"r":5,"t":1.0},{"r":5,"t":1.14},{"r":5,"t":3.0},{"r":5,"t":3.15},{"r":5,"t":3.82},{"r":5,"t":5.38},{"r":5,"t":5.52},{"r":5,"t":5.66},{"r":5,"t":5.83},{"r":5,"t":8.5},{"r":5,"t":8.64},{"r":5,"t":8.8},
{"r":6,"t":-9.41},{"r":6,"t":-9.27},{"r":6,"t":-9.13},{"r":6,"t":-8.99},{"r":6,"t":-8.85},{"r":6,"t":-8.71},{"r":6,"t":-8.57},{"r":6,"t":-8.43},{"r":6,"t":-8.3},{"r":6,"t":-5.77},{"r":6,"t":-3.02},{"r":6,"t":-2.88},{"r":6,"t":-2.74},{"r":6,"t":-2.6},{"r":6,"t":-2.46},{"r":6,"t":-2.32},{"r":6,"t":-2.18},{"r":6,"t":-1.9},{"r":6,"t":-1.76},{"r":6,"t":-1.62},{"r":6,"t":-1.48},{"r":6,"t":-1.34},{"r":6,"t":-1.16},{"r":6,"t":-1.01},{"r":6,"t":-0.71},{"r":6,"t":0.03},{"r":6,"t":0.17},{"r":6,"t":0.31},{"r":6,"t":0.45},{"r":6,"t":0.59},{"r":6,"t":1.81},{"r":6,"t":1.95},{"r":6,"t":2.09},{"r":6,"t":2.23},{"r":6,"t":2.37},{"r":6,"t":2.51},{"r":6,"t":2.65},{"r":6,"t":2.79},{"r":6,"t":2.93},{"r":6,"t":3.75},{"r":6,"t":3.89},{"r":6,"t":4.03},{"r":6,"t":4.17},{"r":6,"t":4.31},{"r":6,"t":4.45},{"r":6,"t":4.6},{"r":6,"t":4.94},{"r":6,"t":5.08},{"r":6,"t":5.22},{"r":6,"t":5.36},{"r":6,"t":5.5},{"r":6,"t":5.64},{"r":6,"t":5.78},{"r":6,"t":7.31},{"r":6,"t":8.5},{"r":6,"t":9.97},
{"r":7,"t":-9.93},{"r":7,"t":-9.26},{"r":7,"t":-9.15},{"r":7,"t":-6.66},{"r":7,"t":-2.05},{"r":7,"t":-1.91},{"r":7,"t":-1.77},{"r":7,"t":-1.63},{"r":7,"t":-1.49},{"r":7,"t":-1.35},{"r":7,"t":-1.21},{"r":7,"t":-1.07},{"r":7,"t":-0.93},{"r":7,"t":-0.79},{"r":7,"t":-0.65},{"r":7,"t":-0.51},{"r":7,"t":0.03},{"r":7,"t":0.17},{"r":7,"t":0.31},{"r":7,"t":0.45},{"r":7,"t":0.59},{"r":7,"t":2.78},{"r":7,"t":3.23},{"r":7,"t":3.37},{"r":7,"t":3.82},{"r":7,"t":4.79},{"r":7,"t":5.46},{"r":7,"t":9.37},
{"r":8,"t":-6.66},{"r":8,"t":-5.35},{"r":8,"t":-3.91},{"r":8,"t":-3.61},{"r":8,"t":-3.47},{"r":8,"t":-3.33},{"r":8,"t":-3.19},{"r":8,"t":-3.05},{"r":8,"t":-2.94},{"r":8,"t":-2.65},{"r":8,"t":-2.5},{"r":8,"t":-2.42},{"r":8,"t":-1.23},{"r":8,"t":-1.09},{"r":8,"t":-1.01},{"r":8,"t":-0.34},{"r":8,"t":0.1},{"r":8,"t":0.24},{"r":8,"t":0.38},{"r":8,"t":0.52},{"r":8,"t":0.66},{"r":8,"t":0.8},{"r":8,"t":2.19},{"r":8,"t":2.33},{"r":8,"t":2.41},{"r":8,"t":2.63},{"r":8,"t":4.34},{"r":8,"t":4.48},{"r":8,"t":4.62},{"r":8,"t":4.79},{"r":8,"t":5.46},{"r":8,"t":5.53},{"r":8,"t":6.5},{"r":8,"t":6.87},
{"r":9,"t":-8.52},{"r":9,"t":-3.09},{"r":9,"t":-2.65},{"r":9,"t":-2.5},{"r":9,"t":-2.35},{"r":9,"t":-1.9},{"r":9,"t":-1.16},{"r":9,"t":-0.71},{"r":9,"t":-0.56},{"r":9,"t":-0.42},{"r":9,"t":0.03},{"r":9,"t":0.17},{"r":9,"t":0.31},{"r":9,"t":0.45},{"r":9,"t":0.59},{"r":9,"t":0.73},{"r":9,"t":0.87},{"r":9,"t":1.01},{"r":9,"t":1.15},{"r":9,"t":1.29},{"r":9,"t":1.43},{"r":9,"t":1.57},{"r":9,"t":1.67},{"r":9,"t":3.0},{"r":9,"t":3.14},{"r":9,"t":3.28},{"r":9,"t":3.42},{"r":9,"t":3.52},{"r":9,"t":3.82},{"r":9,"t":5.46},{"r":9,"t":6.5},{"r":9,"t":8.43},{"r":9,"t":8.73},{"r":9,"t":8.88},
{"r":10,"t":-8.94},{"r":10,"t":-5.92},{"r":10,"t":-5.74},{"r":10,"t":-5.32},{"r":10,"t":-3.98},{"r":10,"t":-3.76},{"r":10,"t":-2.87},{"r":10,"t":-2.73},{"r":10,"t":-2.59},{"r":10,"t":-2.45},{"r":10,"t":-2.35},{"r":10,"t":-1.9},{"r":10,"t":-1.53},{"r":10,"t":-1.09},{"r":10,"t":-0.71},{"r":10,"t":0.03},{"r":10,"t":0.17},{"r":10,"t":0.31},{"r":10,"t":0.45},{"r":10,"t":0.59},{"r":10,"t":0.73},{"r":10,"t":0.85},{"r":10,"t":1.52},{"r":10,"t":2.26},{"r":10,"t":3.0},{"r":10,"t":5.01},{"r":10,"t":6.05},
{"r":11,"t":-9.04},{"r":11,"t":-2.75},{"r":11,"t":-2.35},{"r":11,"t":-2.21},{"r":11,"t":-2.07},{"r":11,"t":-1.93},{"r":11,"t":-1.79},{"r":11,"t":-1.65},{"r":11,"t":-1.46},{"r":11,"t":-1.32},{"r":11,"t":-1.18},{"r":11,"t":-1.01},{"r":11,"t":-0.71},{"r":11,"t":-0.57},{"r":11,"t":-0.43},{"r":11,"t":-0.29},{"r":11,"t":-0.15},{"r":11,"t":0.0},{"r":11,"t":0.14},{"r":11,"t":0.28},{"r":11,"t":0.42},{"r":11,"t":0.56},{"r":11,"t":0.7},{"r":11,"t":0.85},{"r":11,"t":2.19},{"r":11,"t":2.33},{"r":11,"t":2.47},{"r":11,"t":2.61},{"r":11,"t":2.75},{"r":11,"t":2.89},{"r":11,"t":3.03},{"r":11,"t":3.17},{"r":11,"t":3.31},{"r":11,"t":3.45},{"r":11,"t":3.59},{"r":11,"t":3.73},{"r":11,"t":3.87},{"r":11,"t":4.04},{"r":11,"t":4.34},{"r":11,"t":4.86},{"r":11,"t":5.31},{"r":11,"t":6.05},{"r":11,"t":7.54},{"r":11,"t":7.68},{"r":11,"t":7.82},{"r":11,"t":7.98},
{"r":12,"t":-4.28},{"r":12,"t":-4.13},{"r":12,"t":-2.42},{"r":12,"t":-2.28},{"r":12,"t":-2.14},{"r":12,"t":-2.0},{"r":12,"t":-1.86},{"r":12,"t":-1.72},{"r":12,"t":-1.61},{"r":12,"t":-1.31},{"r":12,"t":-0.71},{"r":12,"t":-0.57},{"r":12,"t":-0.43},{"r":12,"t":-0.29},{"r":12,"t":-0.15},{"r":12,"t":-0.01},{"r":12,"t":0.13},{"r":12,"t":0.27},{"r":12,"t":0.41},{"r":12,"t":0.55},{"r":12,"t":0.69},{"r":12,"t":0.83},{"r":12,"t":0.97},{"r":12,"t":1.11},{"r":12,"t":1.25},{"r":12,"t":1.39},{"r":12,"t":1.53},{"r":12,"t":1.67},{"r":12,"t":1.81},{"r":12,"t":1.95},{"r":12,"t":2.09},{"r":12,"t":2.26},{"r":12,"t":2.48},{"r":12,"t":4.34},{"r":12,"t":4.49},{"r":12,"t":4.94},{"r":12,"t":5.08},{"r":12,"t":5.53},{"r":12,"t":5.68},{"r":12,"t":5.83},{"r":12,"t":6.13},{"r":12,"t":6.27},{"r":12,"t":6.41},{"r":12,"t":6.57},{"r":12,"t":6.72},{"r":12,"t":7.02},{"r":12,"t":7.16},{"r":12,"t":7.31},{"r":12,"t":8.13},{"r":12,"t":8.27},{"r":12,"t":8.36},
{"r":13,"t":-8.74},{"r":13,"t":-8.15},{"r":13,"t":-6.88},{"r":13,"t":-6.74},{"r":13,"t":-5.62},{"r":13,"t":-5.17},{"r":13,"t":-3.39},{"r":13,"t":-3.25},{"r":13,"t":-3.11},{"r":13,"t":-2.97},{"r":13,"t":-2.83},{"r":13,"t":-2.69},{"r":13,"t":-2.55},{"r":13,"t":-2.41},{"r":13,"t":-2.27},{"r":13,"t":-2.05},{"r":13,"t":-1.91},{"r":13,"t":-1.77},{"r":13,"t":-1.63},{"r":13,"t":-1.49},{"r":13,"t":-1.35},{"r":13,"t":-1.16},{"r":13,"t":-0.71},{"r":13,"t":-0.57},{"r":13,"t":-0.43},{"r":13,"t":-0.29},{"r":13,"t":-0.15},{"r":13,"t":-0.01},{"r":13,"t":0.13},{"r":13,"t":0.27},{"r":13,"t":0.41},{"r":13,"t":0.55},{"r":13,"t":0.69},{"r":13,"t":0.83},{"r":13,"t":0.97},{"r":13,"t":1.11},{"r":13,"t":1.25},{"r":13,"t":1.39},{"r":13,"t":1.53},{"r":13,"t":1.67},{"r":13,"t":3.15},{"r":13,"t":4.19},{"r":13,"t":4.34},{"r":13,"t":4.49},{"r":13,"t":4.94},{"r":13,"t":5.53},{"r":13,"t":7.91},
{"r":14,"t":-9.07},{"r":14,"t":-8.74},{"r":14,"t":-8.59},{"r":14,"t":-8.37},{"r":14,"t":-7.85},{"r":14,"t":-7.26},{"r":14,"t":-6.29},{"r":14,"t":-5.99},{"r":14,"t":-5.69},{"r":14,"t":-5.54},{"r":14,"t":-5.35},{"r":14,"t":-4.88},{"r":14,"t":-4.73},{"r":14,"t":-4.5},{"r":14,"t":-4.13},{"r":14,"t":-3.46},{"r":14,"t":-1.9},{"r":14,"t":-1.76},{"r":14,"t":-1.62},{"r":14,"t":-1.48},{"r":14,"t":-1.34},{"r":14,"t":-1.2},{"r":14,"t":-1.01},{"r":14,"t":-0.71},{"r":14,"t":-0.57},{"r":14,"t":-0.42},{"r":14,"t":0.03},{"r":14,"t":0.17},{"r":14,"t":0.31},{"r":14,"t":0.45},{"r":14,"t":0.59},{"r":14,"t":0.73},{"r":14,"t":0.87},{"r":14,"t":1.01},{"r":14,"t":1.15},{"r":14,"t":1.29},{"r":14,"t":1.43},{"r":14,"t":1.57},{"r":14,"t":1.71},{"r":14,"t":1.85},{"r":14,"t":1.99},{"r":14,"t":2.13},{"r":14,"t":2.27},{"r":14,"t":2.41},{"r":14,"t":2.55},{"r":14,"t":2.69},{"r":14,"t":2.83},{"r":14,"t":3.0},{"r":14,"t":4.19},{"r":14,"t":4.34},{"r":14,"t":4.49},{"r":14,"t":4.64},{"r":14,"t":4.86},{"r":14,"t":7.02},
{"r":15,"t":-8.3},{"r":15,"t":-7.4},{"r":15,"t":-7.03},{"r":15,"t":-4.8},{"r":15,"t":-4.65},{"r":15,"t":-4.43},{"r":15,"t":-3.09},{"r":15,"t":-2.5},{"r":15,"t":-2.36},{"r":15,"t":-2.22},{"r":15,"t":-2.08},{"r":15,"t":-1.94},{"r":15,"t":-1.75},{"r":15,"t":-1.38},{"r":15,"t":-1.24},{"r":15,"t":-1.1},{"r":15,"t":-0.96},{"r":15,"t":-0.82},{"r":15,"t":-0.71},{"r":15,"t":-0.42},{"r":15,"t":-0.28},{"r":15,"t":-0.14},{"r":15,"t":0.0},{"r":15,"t":0.14},{"r":15,"t":0.28},{"r":15,"t":0.42},{"r":15,"t":0.56},{"r":15,"t":0.7},{"r":15,"t":0.84},{"r":15,"t":0.98},{"r":15,"t":1.12},{"r":15,"t":1.26},{"r":15,"t":1.37},{"r":15,"t":2.56},{"r":15,"t":2.7},{"r":15,"t":2.84},{"r":15,"t":2.98},{"r":15,"t":3.12},{"r":15,"t":3.26},{"r":15,"t":3.45},{"r":15,"t":4.86},{"r":15,"t":5.23},{"r":15,"t":5.46},{"r":15,"t":5.83},{"r":15,"t":6.27},{"r":15,"t":6.41},{"r":15,"t":6.57},{"r":15,"t":6.72},{"r":15,"t":8.13},
{"r":16,"t":-8.74},{"r":16,"t":-8.6},{"r":16,"t":-8.4},{"r":16,"t":-7.33},{"r":16,"t":-7.18},{"r":16,"t":-6.99},{"r":16,"t":-6.66},{"r":16,"t":-6.07},{"r":16,"t":-5.92},{"r":16,"t":-5.74},{"r":16,"t":-4.88},{"r":16,"t":-4.73},{"r":16,"t":-4.58},{"r":16,"t":-3.54},{"r":16,"t":-3.4},{"r":16,"t":-3.26},{"r":16,"t":-3.12},{"r":16,"t":-2.98},{"r":16,"t":-2.84},{"r":16,"t":-2.7},{"r":16,"t":-2.56},{"r":16,"t":-2.42},{"r":16,"t":-2.28},{"r":16,"t":-2.14},{"r":16,"t":-2.0},{"r":16,"t":-1.86},{"r":16,"t":-1.53},{"r":16,"t":-1.39},{"r":16,"t":-1.25},{"r":16,"t":-1.09},{"r":16,"t":-0.71},{"r":16,"t":-0.57},{"r":16,"t":-0.42},{"r":16,"t":-0.27},{"r":16,"t":-0.12},{"r":16,"t":0.03},{"r":16,"t":0.17},{"r":16,"t":0.31},{"r":16,"t":0.45},{"r":16,"t":0.59},{"r":16,"t":0.73},{"r":16,"t":0.87},{"r":16,"t":1.01},{"r":16,"t":1.15},{"r":16,"t":1.29},{"r":16,"t":1.43},{"r":16,"t":1.57},{"r":16,"t":1.71},{"r":16,"t":1.85},{"r":16,"t":1.96},{"r":16,"t":5.61},{"r":16,"t":8.65},{"r":16,"t":8.88},{"r":16,"t":9.4},{"r":16,"t":9.55},{"r":16,"t":9.7},{"r":16,"t":9.85},{"r":16,"t":9.97},
{"r":17,"t":-6.81},{"r":17,"t":-6.67},{"r":17,"t":-6.53},{"r":17,"t":-6.39},{"r":17,"t":-6.25},{"r":17,"t":-6.11},{"r":17,"t":-5.97},{"r":17,"t":-5.83},{"r":17,"t":-5.69},{"r":17,"t":-4.8},{"r":17,"t":-4.65},{"r":17,"t":-4.5},{"r":17,"t":-4.21},{"r":17,"t":-3.39},{"r":17,"t":-3.25},{"r":17,"t":-3.11},{"r":17,"t":-2.97},{"r":17,"t":-2.83},{"r":17,"t":-2.69},{"r":17,"t":-2.55},{"r":17,"t":-2.41},{"r":17,"t":-2.27},{"r":17,"t":-1.38},{"r":17,"t":-0.71},{"r":17,"t":-0.12},{"r":17,"t":0.02},{"r":17,"t":0.16},{"r":17,"t":0.3},{"r":17,"t":0.44},{"r":17,"t":0.58},{"r":17,"t":0.85},{"r":17,"t":0.99},{"r":17,"t":1.13},{"r":17,"t":1.27},{"r":17,"t":1.41},{"r":17,"t":1.55},{"r":17,"t":1.69},{"r":17,"t":1.83},{"r":17,"t":1.97},{"r":17,"t":2.11},{"r":17,"t":2.26},{"r":17,"t":3.6},{"r":17,"t":5.31},{"r":17,"t":5.83},{"r":17,"t":6.27},{"r":17,"t":6.41},{"r":17,"t":6.57},{"r":17,"t":6.72},{"r":17,"t":9.02},{"r":17,"t":9.17},{"r":17,"t":9.25},
{"r":18,"t":-6.02},{"r":18,"t":-4.58},{"r":18,"t":-4.43},{"r":18,"t":-4.28},{"r":18,"t":-3.09},{"r":18,"t":-2.95},{"r":18,"t":-2.81},{"r":18,"t":-2.67},{"r":18,"t":-2.53},{"r":18,"t":-2.39},{"r":18,"t":-2.25},{"r":18,"t":-2.11},{"r":18,"t":-1.97},{"r":18,"t":-1.83},{"r":18,"t":-1.69},{"r":18,"t":-1.46},{"r":18,"t":-1.32},{"r":18,"t":-1.18},{"r":18,"t":-1.04},{"r":18,"t":-0.9},{"r":18,"t":-0.76},{"r":18,"t":-0.62},{"r":18,"t":-0.48},{"r":18,"t":-0.34},{"r":18,"t":0.03},{"r":18,"t":0.33},{"r":18,"t":1.29},{"r":18,"t":1.44},{"r":18,"t":1.59},{"r":18,"t":2.11},{"r":18,"t":2.63},{"r":18,"t":3.23},{"r":18,"t":3.37},{"r":18,"t":3.45},{"r":18,"t":4.04},{"r":18,"t":4.19},{"r":18,"t":4.34},{"r":18,"t":4.45},{"r":18,"t":5.08},{"r":18,"t":8.65},{"r":18,"t":8.8},{"r":18,"t":8.95},{"r":18,"t":9.1},{"r":18,"t":9.25}],
"rA":[{"r":1,"t":-1.05},{"r":1,"t":-0.1},{"r":1,"t":0.04},{"r":1,"t":0.18},{"r":1,"t":0.32},{"r":1,"t":0.46},{"r":1,"t":0.6},{"r":1,"t":0.74},{"r":1,"t":0.88},{"r":1,"t":1.02},{"r":1,"t":1.16},{"r":1,"t":1.3},{"r":1,"t":1.44},{"r":1,"t":1.58},{"r":1,"t":1.72},{"r":1,"t":1.86},{"r":1,"t":2.0},{"r":1,"t":2.14},{"r":1,"t":2.28},{"r":1,"t":2.62},{"r":1,"t":2.76},{"r":1,"t":2.9},{"r":1,"t":3.04},{"r":1,"t":3.18},{"r":1,"t":3.32},{"r":1,"t":3.46},{"r":1,"t":3.6},{"r":1,"t":3.74},{"r":1,"t":3.88},{"r":1,"t":4.02},{"r":1,"t":4.16},{"r":1,"t":4.3},{"r":1,"t":4.44},{"r":1,"t":4.58},{"r":1,"t":4.92},{"r":1,"t":5.06},{"r":1,"t":5.2},{"r":1,"t":5.34},{"r":1,"t":5.48},{"r":1,"t":5.62},{"r":1,"t":5.76},{"r":1,"t":5.9},{"r":1,"t":6.04},{"r":1,"t":6.18},{"r":1,"t":6.32},{"r":1,"t":6.46},{"r":1,"t":6.6},{"r":1,"t":6.92},{"r":1,"t":7.06},{"r":1,"t":7.2},{"r":1,"t":7.34},{"r":1,"t":7.48},{"r":1,"t":7.85},{"r":1,"t":8.0},{"r":1,"t":8.29},{"r":1,"t":8.44},{"r":1,"t":8.88},{"r":1,"t":9.03},{"r":1,"t":9.4},{"r":1,"t":9.55},{"r":1,"t":9.84},
{"r":2,"t":-9.52},{"r":2,"t":-9.4},{"r":2,"t":-9.28},{"r":2,"t":-9.05},{"r":2,"t":-8.41},{"r":2,"t":-8.26},{"r":2,"t":-8.04},{"r":2,"t":-7.67},{"r":2,"t":-7.52},{"r":2,"t":-7.26},{"r":2,"t":-6.71},{"r":2,"t":-6.42},{"r":2,"t":-6.12},{"r":2,"t":-5.16},{"r":2,"t":-4.45},{"r":2,"t":-3.65},{"r":2,"t":-3.02},{"r":2,"t":-2.86},{"r":2,"t":-2.35},{"r":2,"t":-2.22},{"r":2,"t":-1.91},{"r":2,"t":-1.76},{"r":2,"t":-1.61},{"r":2,"t":-1.48},{"r":2,"t":-0.87},{"r":2,"t":-0.75},{"r":2,"t":-0.58},{"r":2,"t":-0.45},{"r":2,"t":-0.3},{"r":2,"t":-0.16},{"r":2,"t":0.46},{"r":2,"t":0.68},{"r":2,"t":1.42},{"r":2,"t":2.08},{"r":2,"t":4.52},{"r":2,"t":4.82},{"r":2,"t":5.11},{"r":2,"t":7.33},{"r":2,"t":7.48},{"r":2,"t":7.63},{"r":2,"t":9.11},
{"r":3,"t":-8.63},{"r":3,"t":-7.3},{"r":3,"t":-3.31},{"r":3,"t":-2.57},{"r":3,"t":-2.42},{"r":3,"t":-2.25},{"r":3,"t":-1.91},{"r":3,"t":-1.32},{"r":3,"t":-1.15},{"r":3,"t":-1.0},{"r":3,"t":-0.72},{"r":3,"t":0.46},{"r":3,"t":1.27},{"r":3,"t":1.4},{"r":3,"t":1.52},{"r":3,"t":2.38},{"r":3,"t":2.52},{"r":3,"t":2.65},{"r":3,"t":2.85},{"r":3,"t":3.05},{"r":3,"t":4.15},{"r":3,"t":5.19},{"r":3,"t":5.85},{"r":3,"t":6.3},{"r":3,"t":6.81},{"r":3,"t":6.96},{"r":3,"t":7.11},{"r":3,"t":7.26},{"r":3,"t":7.41},{"r":3,"t":7.55},{"r":3,"t":9.18},
{"r":4,"t":-9.82},{"r":4,"t":-9.65},{"r":4,"t":-9.15},{"r":4,"t":-8.95},{"r":4,"t":-8.12},{"r":4,"t":-7.97},{"r":4,"t":-7.45},{"r":4,"t":-7.08},{"r":4,"t":-6.93},{"r":4,"t":-6.27},{"r":4,"t":-6.09},{"r":4,"t":-5.31},{"r":4,"t":-3.83},{"r":4,"t":-3.68},{"r":4,"t":-3.02},{"r":4,"t":-2.79},{"r":4,"t":-2.05},{"r":4,"t":-0.5},{"r":4,"t":0.61},{"r":4,"t":1.2},{"r":4,"t":1.34},{"r":4,"t":1.48},{"r":4,"t":1.62},{"r":4,"t":1.76},{"r":4,"t":1.9},{"r":4,"t":2.04},{"r":4,"t":2.18},{"r":4,"t":2.32},{"r":4,"t":2.46},{"r":4,"t":2.6},{"r":4,"t":2.9},{"r":4,"t":3.04},{"r":4,"t":3.18},{"r":4,"t":3.32},{"r":4,"t":3.46},{"r":4,"t":3.6},{"r":4,"t":3.74},{"r":4,"t":3.88},{"r":4,"t":4.02},{"r":4,"t":4.15},{"r":4,"t":4.38},{"r":4,"t":4.52},{"r":4,"t":4.89},{"r":4,"t":5.03},{"r":4,"t":5.17},{"r":4,"t":5.31},{"r":4,"t":5.45},{"r":4,"t":5.78},{"r":4,"t":6.44},{"r":4,"t":6.81},{"r":4,"t":6.96},{"r":4,"t":7.55},{"r":4,"t":8.66},{"r":4,"t":8.8},{"r":4,"t":8.94},{"r":4,"t":9.08},{"r":4,"t":9.22},{"r":4,"t":9.36},{"r":4,"t":9.5},{"r":4,"t":9.64},{"r":4,"t":9.78},{"r":4,"t":9.92},
{"r":5,"t":-9.52},{"r":5,"t":-8.04},{"r":5,"t":-7.85},{"r":5,"t":-7.6},{"r":5,"t":-7.38},{"r":5,"t":-7.22},{"r":5,"t":-7.05},{"r":5,"t":-6.93},{"r":5,"t":-6.56},{"r":5,"t":-3.75},{"r":5,"t":-1.61},{"r":5,"t":-0.95},{"r":5,"t":1.12},{"r":5,"t":1.26},{"r":5,"t":1.4},{"r":5,"t":1.54},{"r":5,"t":1.68},{"r":5,"t":1.82},{"r":5,"t":1.96},{"r":5,"t":2.1},{"r":5,"t":2.24},{"r":5,"t":2.38},{"r":5,"t":2.52},{"r":5,"t":2.66},{"r":5,"t":2.8},{"r":5,"t":2.94},{"r":5,"t":3.08},{"r":5,"t":3.22},{"r":5,"t":3.36},{"r":5,"t":3.71},{"r":5,"t":3.85},{"r":5,"t":3.99},{"r":5,"t":4.13},{"r":5,"t":4.27},{"r":5,"t":4.41},{"r":5,"t":4.55},{"r":5,"t":4.69},{"r":5,"t":4.83},{"r":5,"t":4.97},{"r":5,"t":5.11},{"r":5,"t":5.25},{"r":5,"t":5.63},{"r":5,"t":6.0},{"r":5,"t":6.14},{"r":5,"t":6.28},{"r":5,"t":6.42},{"r":5,"t":6.56},{"r":5,"t":6.72},{"r":5,"t":7.26},{"r":5,"t":7.7},
{"r":6,"t":-9.45},{"r":6,"t":-7.23},{"r":6,"t":-4.62},{"r":6,"t":-3.83},{"r":6,"t":-0.95},{"r":6,"t":0.68},{"r":6,"t":0.98},{"r":6,"t":1.64},{"r":6,"t":1.79},{"r":6,"t":1.94},{"r":6,"t":8.44},{"r":6,"t":8.88},
{"r":7,"t":-9.27},{"r":7,"t":-7.52},{"r":7,"t":-7.38},{"r":7,"t":-7.23},{"r":7,"t":-4.35},{"r":7,"t":-2.35},{"r":7,"t":-2.05},{"r":7,"t":-1.61},{"r":7,"t":-0.43},{"r":7,"t":0.24},{"r":7,"t":1.05},{"r":7,"t":1.42},{"r":7,"t":1.57},{"r":7,"t":1.86},{"r":7,"t":2.0},{"r":7,"t":2.14},{"r":7,"t":2.28},{"r":7,"t":2.42},{"r":7,"t":2.56},{"r":7,"t":2.7},{"r":7,"t":2.84},{"r":7,"t":2.98},{"r":7,"t":3.12},{"r":7,"t":3.26},{"r":7,"t":3.4},{"r":7,"t":3.54},{"r":7,"t":3.68},{"r":7,"t":3.82},{"r":7,"t":3.96},{"r":7,"t":4.1},{"r":7,"t":4.3},{"r":7,"t":4.44},{"r":7,"t":4.58},{"r":7,"t":4.72},{"r":7,"t":4.86},{"r":7,"t":5.0},{"r":7,"t":5.14},{"r":7,"t":5.28},{"r":7,"t":5.41},{"r":7,"t":5.63},{"r":7,"t":6.15},{"r":7,"t":6.52},{"r":7,"t":6.81},{"r":7,"t":8.44},{"r":7,"t":9.03},
{"r":8,"t":-8.78},{"r":8,"t":-8.63},{"r":8,"t":-8.41},{"r":8,"t":-8.26},{"r":8,"t":-5.48},{"r":8,"t":-5.31},{"r":8,"t":-5.16},{"r":8,"t":-4.3},{"r":8,"t":-4.12},{"r":8,"t":-3.68},{"r":8,"t":-1.76},{"r":8,"t":-1.05},{"r":8,"t":-0.87},{"r":8,"t":0.9},{"r":8,"t":1.04},{"r":8,"t":1.18},{"r":8,"t":1.32},{"r":8,"t":1.46},{"r":8,"t":1.6},{"r":8,"t":1.74},{"r":8,"t":1.88},{"r":8,"t":2.02},{"r":8,"t":2.45},{"r":8,"t":2.59},{"r":8,"t":2.73},{"r":8,"t":2.87},{"r":8,"t":3.01},{"r":8,"t":3.15},{"r":8,"t":3.29},{"r":8,"t":3.43},{"r":8,"t":3.57},{"r":8,"t":3.71},{"r":8,"t":3.85},{"r":8,"t":3.99},{"r":8,"t":4.13},{"r":8,"t":4.27},{"r":8,"t":4.41},{"r":8,"t":4.55},{"r":8,"t":4.69},{"r":8,"t":4.83},{"r":8,"t":4.97},{"r":8,"t":5.48},{"r":8,"t":5.93},{"r":8,"t":6.52},{"r":8,"t":6.67},{"r":8,"t":8.44},{"r":8,"t":8.59},{"r":8,"t":8.74},
{"r":9,"t":-8.78},{"r":9,"t":-6.93},{"r":9,"t":-5.6},{"r":9,"t":-4.86},{"r":9,"t":-3.98},{"r":9,"t":-1.76},{"r":9,"t":-0.65},{"r":9,"t":0.31},{"r":9,"t":0.9},{"r":9,"t":1.05},{"r":9,"t":1.2},{"r":9,"t":1.35},{"r":9,"t":1.79},{"r":9,"t":1.93},{"r":9,"t":2.07},{"r":9,"t":2.21},{"r":9,"t":2.35},{"r":9,"t":2.49},{"r":9,"t":2.63},{"r":9,"t":2.77},{"r":9,"t":2.91},{"r":9,"t":3.05},{"r":9,"t":3.19},{"r":9,"t":3.33},{"r":9,"t":3.47},{"r":9,"t":3.61},{"r":9,"t":3.75},{"r":9,"t":4.01},{"r":9,"t":4.15},{"r":9,"t":4.29},{"r":9,"t":4.43},{"r":9,"t":4.57},{"r":9,"t":4.71},{"r":9,"t":4.85},{"r":9,"t":4.99},{"r":9,"t":5.13},{"r":9,"t":5.27},{"r":9,"t":5.41},{"r":9,"t":5.55},{"r":9,"t":5.69},{"r":9,"t":5.83},{"r":9,"t":6.3},{"r":9,"t":6.67},{"r":9,"t":7.48},
{"r":10,"t":-6.93},{"r":10,"t":-6.16},{"r":10,"t":-5.31},{"r":10,"t":-4.94},{"r":10,"t":-4.57},{"r":10,"t":-1.76},{"r":10,"t":-0.43},{"r":10,"t":1.12},{"r":10,"t":1.42},{"r":10,"t":1.56},{"r":10,"t":1.7},{"r":10,"t":1.84},{"r":10,"t":1.98},{"r":10,"t":2.12},{"r":10,"t":2.26},{"r":10,"t":2.4},{"r":10,"t":2.54},{"r":10,"t":2.68},{"r":10,"t":2.82},{"r":10,"t":2.96},{"r":10,"t":3.1},{"r":10,"t":3.34},{"r":10,"t":3.48},{"r":10,"t":3.62},{"r":10,"t":3.76},{"r":10,"t":3.9},{"r":10,"t":4.04},{"r":10,"t":4.18},{"r":10,"t":4.32},{"r":10,"t":4.45},{"r":10,"t":5.04},{"r":10,"t":5.56},{"r":10,"t":5.7},{"r":10,"t":5.84},{"r":10,"t":5.98},{"r":10,"t":6.12},{"r":10,"t":6.22},{"r":10,"t":9.7},{"r":10,"t":9.84},
{"r":11,"t":-8.68},{"r":11,"t":-7.49},{"r":11,"t":-5.98},{"r":11,"t":-5.09},{"r":11,"t":-4.94},{"r":11,"t":-4.79},{"r":11,"t":-4.62},{"r":11,"t":-4.2},{"r":11,"t":-4.05},{"r":11,"t":-3.9},{"r":11,"t":-3.39},{"r":11,"t":-3.24},{"r":11,"t":-1.76},{"r":11,"t":-0.28},{"r":11,"t":1.2},{"r":11,"t":2.16},{"r":11,"t":3.12},{"r":11,"t":3.26},{"r":11,"t":3.4},{"r":11,"t":3.54},{"r":11,"t":3.68},{"r":11,"t":3.82},{"r":11,"t":3.96},{"r":11,"t":4.1},{"r":11,"t":4.24},{"r":11,"t":4.38},{"r":11,"t":4.52},{"r":11,"t":4.66},{"r":11,"t":4.8},{"r":11,"t":4.94},{"r":11,"t":5.08},{"r":11,"t":5.22},{"r":11,"t":5.36},{"r":11,"t":5.5},{"r":11,"t":5.64},{"r":11,"t":5.78},{"r":11,"t":6.22},{"r":11,"t":6.36},{"r":11,"t":6.5},{"r":11,"t":6.64},{"r":11,"t":6.78},{"r":11,"t":6.92},{"r":11,"t":7.06},{"r":11,"t":7.2},{"r":11,"t":7.34},{"r":11,"t":7.48},{"r":11,"t":7.62},{"r":11,"t":7.92},{"r":11,"t":8.29},{"r":11,"t":8.74},{"r":11,"t":9.25},{"r":11,"t":9.7},{"r":11,"t":9.84},
{"r":12,"t":-9.89},{"r":12,"t":-9.75},{"r":12,"t":-9.55},{"r":12,"t":-9.0},{"r":12,"t":-8.19},{"r":12,"t":-6.96},{"r":12,"t":-4.64},{"r":12,"t":-1.69},{"r":12,"t":-0.5},{"r":12,"t":-0.21},{"r":12,"t":0.38},{"r":12,"t":0.68},{"r":12,"t":0.83},{"r":12,"t":1.35},{"r":12,"t":1.49},{"r":12,"t":1.86},{"r":12,"t":2.0},{"r":12,"t":2.14},{"r":12,"t":2.23},{"r":12,"t":2.53},{"r":12,"t":2.67},{"r":12,"t":2.81},{"r":12,"t":2.95},{"r":12,"t":3.09},{"r":12,"t":3.23},{"r":12,"t":3.37},{"r":12,"t":3.51},{"r":12,"t":3.65},{"r":12,"t":3.79},{"r":12,"t":3.93},{"r":12,"t":4.07},{"r":12,"t":4.21},{"r":12,"t":4.35},{"r":12,"t":4.49},{"r":12,"t":4.6},{"r":12,"t":4.82},{"r":12,"t":4.96},{"r":12,"t":5.1},{"r":12,"t":5.24},{"r":12,"t":5.38},{"r":12,"t":5.52},{"r":12,"t":5.63},{"r":12,"t":6.0},{"r":12,"t":6.08},{"r":12,"t":6.89},{"r":12,"t":7.03},{"r":12,"t":7.17},{"r":12,"t":7.33},{"r":12,"t":7.85},{"r":12,"t":9.92},
{"r":13,"t":-9.74},{"r":13,"t":-9.03},{"r":13,"t":-7.82},{"r":13,"t":-7.67},{"r":13,"t":-7.52},{"r":13,"t":-7.38},{"r":13,"t":-5.53},{"r":13,"t":-5.2},{"r":13,"t":-5.05},{"r":13,"t":-0.72},{"r":13,"t":-0.58},{"r":13,"t":-0.43},{"r":13,"t":1.2},{"r":13,"t":1.34},{"r":13,"t":1.48},{"r":13,"t":1.62},{"r":13,"t":1.76},{"r":13,"t":1.9},{"r":13,"t":2.16},{"r":13,"t":2.3},{"r":13,"t":2.44},{"r":13,"t":2.58},{"r":13,"t":2.72},{"r":13,"t":2.86},{"r":13,"t":3.0},{"r":13,"t":3.14},{"r":13,"t":3.28},{"r":13,"t":3.42},{"r":13,"t":3.56},{"r":13,"t":3.7},{"r":13,"t":3.84},{"r":13,"t":3.98},{"r":13,"t":4.12},{"r":13,"t":4.26},{"r":13,"t":4.6},{"r":13,"t":4.74},{"r":13,"t":4.88},{"r":13,"t":5.02},{"r":13,"t":5.16},{"r":13,"t":5.3},{"r":13,"t":5.44},{"r":13,"t":5.58},{"r":13,"t":5.72},{"r":13,"t":6.0},{"r":13,"t":6.14},{"r":13,"t":6.28},{"r":13,"t":6.42},{"r":13,"t":6.56},{"r":13,"t":6.7},{"r":13,"t":6.84},{"r":13,"t":6.96},{"r":13,"t":7.41},{"r":13,"t":8.0},
{"r":14,"t":-9.82},{"r":14,"t":-5.53},{"r":14,"t":-4.79},{"r":14,"t":0.46},{"r":14,"t":1.12},{"r":14,"t":1.42},{"r":14,"t":1.57},{"r":14,"t":1.86},{"r":14,"t":2.0},{"r":14,"t":2.14},{"r":14,"t":2.23},{"r":14,"t":2.68},{"r":14,"t":2.82},{"r":14,"t":2.96},{"r":14,"t":3.1},{"r":14,"t":3.24},{"r":14,"t":3.38},{"r":14,"t":3.52},{"r":14,"t":4.08},{"r":14,"t":4.23},{"r":14,"t":8.59},{"r":14,"t":8.73},{"r":14,"t":8.87},{"r":14,"t":9.01},{"r":14,"t":9.15},{"r":14,"t":9.29},{"r":14,"t":9.43},{"r":14,"t":9.57},{"r":14,"t":9.71},{"r":14,"t":9.85},
{"r":15,"t":-7.15},{"r":15,"t":-6.27},{"r":15,"t":-2.02},{"r":15,"t":-1.39},{"r":15,"t":1.49},{"r":15,"t":1.63},{"r":15,"t":1.77},{"r":15,"t":1.91},{"r":15,"t":2.05},{"r":15,"t":2.19},{"r":15,"t":2.6},{"r":15,"t":2.74},{"r":15,"t":2.88},{"r":15,"t":3.02},{"r":15,"t":3.16},{"r":15,"t":3.3},{"r":15,"t":3.44},{"r":15,"t":3.58},{"r":15,"t":3.72},{"r":15,"t":3.86},{"r":15,"t":4.0},{"r":15,"t":4.14},{"r":15,"t":4.28},{"r":15,"t":4.52},{"r":15,"t":4.66},{"r":15,"t":4.8},{"r":15,"t":4.94},{"r":15,"t":5.08},{"r":15,"t":5.22},{"r":15,"t":5.36},{"r":15,"t":5.5},{"r":15,"t":5.64},{"r":15,"t":5.78},{"r":15,"t":5.92},{"r":15,"t":6.06},{"r":15,"t":6.3},{"r":15,"t":6.44},{"r":15,"t":6.52},{"r":15,"t":7.63},{"r":15,"t":7.77},{"r":15,"t":7.91},{"r":15,"t":8.05},{"r":15,"t":8.19},{"r":15,"t":8.33},{"r":15,"t":8.44},{"r":15,"t":8.74},{"r":15,"t":8.88},{"r":15,"t":9.03},{"r":15,"t":9.25},{"r":15,"t":9.4},{"r":15,"t":9.62},
{"r":16,"t":-9.98},{"r":16,"t":-9.8},{"r":16,"t":-9.6},{"r":16,"t":-8.04},{"r":16,"t":-7.38},{"r":16,"t":-6.19},{"r":16,"t":-2.35},{"r":16,"t":-1.69},{"r":16,"t":-1.55},{"r":16,"t":-1.39},{"r":16,"t":-0.65},{"r":16,"t":0.83},{"r":16,"t":0.97},{"r":16,"t":1.11},{"r":16,"t":1.25},{"r":16,"t":1.57},{"r":16,"t":1.71},{"r":16,"t":1.85},{"r":16,"t":1.99},{"r":16,"t":2.13},{"r":16,"t":2.27},{"r":16,"t":2.41},{"r":16,"t":2.55},{"r":16,"t":2.69},{"r":16,"t":2.83},{"r":16,"t":2.97},{"r":16,"t":3.19},{"r":16,"t":3.33},{"r":16,"t":3.47},{"r":16,"t":3.61},{"r":16,"t":3.75},{"r":16,"t":4.08},{"r":16,"t":4.23},{"r":16,"t":4.6},{"r":16,"t":4.74},{"r":16,"t":4.88},{"r":16,"t":5.02},{"r":16,"t":5.16},{"r":16,"t":5.3},{"r":16,"t":5.44},{"r":16,"t":5.58},{"r":16,"t":5.72},{"r":16,"t":6.0},{"r":16,"t":6.14},{"r":16,"t":6.28},{"r":16,"t":6.42},{"r":16,"t":6.56},{"r":16,"t":7.18},{"r":16,"t":7.33},{"r":16,"t":8.29},{"r":16,"t":8.44},{"r":16,"t":8.59},
{"r":17,"t":-9.52},{"r":17,"t":-9.12},{"r":17,"t":-8.7},{"r":17,"t":-7.38},{"r":17,"t":-6.64},{"r":17,"t":-6.42},{"r":17,"t":-6.27},{"r":17,"t":-3.68},{"r":17,"t":-2.28},{"r":17,"t":-1.83},{"r":17,"t":-1.39},{"r":17,"t":-0.87},{"r":17,"t":1.2},{"r":17,"t":1.34},{"r":17,"t":1.48},{"r":17,"t":1.62},{"r":17,"t":1.76},{"r":17,"t":1.9},{"r":17,"t":2.04},{"r":17,"t":2.18},{"r":17,"t":2.38},{"r":17,"t":2.52},{"r":17,"t":2.66},{"r":17,"t":2.8},{"r":17,"t":2.94},{"r":17,"t":3.49},{"r":17,"t":3.63},{"r":17,"t":3.77},{"r":17,"t":3.91},{"r":17,"t":4.05},{"r":17,"t":4.19},{"r":17,"t":4.33},{"r":17,"t":4.47},{"r":17,"t":4.61},{"r":17,"t":4.75},{"r":17,"t":4.89},{"r":17,"t":5.03},{"r":17,"t":5.17},{"r":17,"t":5.31},{"r":17,"t":5.45},{"r":17,"t":5.59},{"r":17,"t":5.73},{"r":17,"t":5.87},{"r":17,"t":6.01},{"r":17,"t":6.52},{"r":17,"t":6.66},{"r":17,"t":6.8},{"r":17,"t":6.94},{"r":17,"t":7.08},{"r":17,"t":7.22},{"r":17,"t":7.36},{"r":17,"t":7.5},{"r":17,"t":7.92},{"r":17,"t":8.07},{"r":17,"t":8.44},{"r":17,"t":8.59},{"r":17,"t":9.7},{"r":17,"t":9.84},
{"r":18,"t":-9.89},{"r":18,"t":-9.75},{"r":18,"t":-9.55},{"r":18,"t":-7.08},{"r":18,"t":-5.16},{"r":18,"t":-5.01},{"r":18,"t":-3.53},{"r":18,"t":-3.09},{"r":18,"t":-2.94},{"r":18,"t":-0.87},{"r":18,"t":1.27},{"r":18,"t":1.41},{"r":18,"t":1.55},{"r":18,"t":1.69},{"r":18,"t":1.83},{"r":18,"t":1.97},{"r":18,"t":2.11},{"r":18,"t":2.25},{"r":18,"t":2.39},{"r":18,"t":2.53},{"r":18,"t":2.67},{"r":18,"t":2.81},{"r":18,"t":2.95},{"r":18,"t":3.09},{"r":18,"t":3.23},{"r":18,"t":3.41},{"r":18,"t":3.55},{"r":18,"t":3.69},{"r":18,"t":3.83},{"r":18,"t":3.97},{"r":18,"t":4.11},{"r":18,"t":4.25},{"r":18,"t":4.39},{"r":18,"t":4.89},{"r":18,"t":5.03},{"r":18,"t":5.11},{"r":18,"t":5.34},{"r":18,"t":5.45},{"r":18,"t":5.93},{"r":18,"t":6.07},{"r":18,"t":6.21},{"r":18,"t":6.35},{"r":18,"t":6.49},{"r":18,"t":6.63},{"r":18,"t":6.77},{"r":18,"t":6.91},{"r":18,"t":7.05},{"r":18,"t":7.19},{"r":18,"t":7.92},{"r":18,"t":8.06},{"r":18,"t":8.2},{"r":18,"t":8.34},{"r":18,"t":8.44},{"r":18,"t":9.62},
{"r":19,"t":-9.52},{"r":19,"t":-5.31},{"r":19,"t":-5.01},{"r":19,"t":-4.86},{"r":19,"t":-4.72},{"r":19,"t":-4.2},{"r":19,"t":-3.83},{"r":19,"t":-3.69},{"r":19,"t":-3.55},{"r":19,"t":-3.41},{"r":19,"t":-3.27},{"r":19,"t":-3.13},{"r":19,"t":-2.99},{"r":19,"t":-2.85},{"r":19,"t":-2.35},{"r":19,"t":-2.05},{"r":19,"t":-1.91},{"r":19,"t":1.05},{"r":19,"t":1.19},{"r":19,"t":1.33},{"r":19,"t":1.49},{"r":19,"t":1.79},{"r":19,"t":1.94},{"r":19,"t":2.08},{"r":19,"t":2.38},{"r":19,"t":2.52},{"r":19,"t":2.66},{"r":19,"t":2.8},{"r":19,"t":2.94},{"r":19,"t":3.08},{"r":19,"t":3.22},{"r":19,"t":3.36},{"r":19,"t":3.5},{"r":19,"t":3.64},{"r":19,"t":3.78},{"r":19,"t":3.92},{"r":19,"t":4.06},{"r":19,"t":4.2},{"r":19,"t":4.3},{"r":19,"t":4.75},{"r":19,"t":4.89},{"r":19,"t":5.04},{"r":19,"t":6.22},{"r":19,"t":6.36},{"r":19,"t":6.5},{"r":19,"t":6.64},{"r":19,"t":6.78},{"r":19,"t":6.92},{"r":19,"t":7.06},{"r":19,"t":7.2},{"r":19,"t":7.34},{"r":19,"t":7.7},{"r":19,"t":7.85},{"r":19,"t":8.0},{"r":19,"t":8.59},
{"r":20,"t":-9.89},{"r":20,"t":-9.75},{"r":20,"t":-9.61},{"r":20,"t":-9.47},{"r":20,"t":-9.33},{"r":20,"t":-9.19},{"r":20,"t":-9.05},{"r":20,"t":-8.91},{"r":20,"t":-8.77},{"r":20,"t":-8.63},{"r":20,"t":-8.49},{"r":20,"t":-8.34},{"r":20,"t":-6.56},{"r":20,"t":-5.23},{"r":20,"t":-4.57},{"r":20,"t":-3.75},{"r":20,"t":-0.28},{"r":20,"t":-0.13},{"r":20,"t":2.68},{"r":20,"t":2.82},{"r":20,"t":2.96},{"r":20,"t":3.1},{"r":20,"t":3.24},{"r":20,"t":3.38},{"r":20,"t":3.52},{"r":20,"t":3.66},{"r":20,"t":3.8},{"r":20,"t":4.01},{"r":20,"t":4.15},{"r":20,"t":4.29},{"r":20,"t":4.43},{"r":20,"t":4.57},{"r":20,"t":4.71},{"r":20,"t":4.85},{"r":20,"t":4.99},{"r":20,"t":5.13},{"r":20,"t":5.63},{"r":20,"t":5.77},{"r":20,"t":5.91},{"r":20,"t":6.05},{"r":20,"t":6.19},{"r":20,"t":6.67},{"r":20,"t":6.81},{"r":20,"t":6.95},{"r":20,"t":7.09},{"r":20,"t":7.23},{"r":20,"t":7.37},{"r":20,"t":8.14},{"r":20,"t":8.59},{"r":20,"t":8.74},{"r":20,"t":8.88},{"r":20,"t":9.55},
{"r":21,"t":-9.37},{"r":21,"t":-9.12},{"r":21,"t":-6.56},{"r":21,"t":-5.31},{"r":21,"t":-3.83},{"r":21,"t":-1.76},{"r":21,"t":-0.87},{"r":21,"t":0.38},{"r":21,"t":0.98},{"r":21,"t":1.12},{"r":21,"t":1.26},{"r":21,"t":1.4},{"r":21,"t":1.54},{"r":21,"t":1.68},{"r":21,"t":1.82},{"r":21,"t":1.96},{"r":21,"t":2.08},{"r":21,"t":2.45},{"r":21,"t":2.59},{"r":21,"t":2.73},{"r":21,"t":2.87},{"r":21,"t":3.01},{"r":21,"t":3.15},{"r":21,"t":3.29},{"r":21,"t":3.43},{"r":21,"t":3.57},{"r":21,"t":3.71},{"r":21,"t":3.85},{"r":21,"t":3.99},{"r":21,"t":4.13},{"r":21,"t":4.27},{"r":21,"t":4.41},{"r":21,"t":4.55},{"r":21,"t":4.69},{"r":21,"t":4.83},{"r":21,"t":4.97},{"r":21,"t":5.63},{"r":21,"t":5.77},{"r":21,"t":5.91},{"r":21,"t":6.05},{"r":21,"t":6.19},{"r":21,"t":6.33},{"r":21,"t":6.47},{"r":21,"t":6.61},{"r":21,"t":6.96},{"r":21,"t":7.11},{"r":21,"t":7.55},{"r":21,"t":7.69},{"r":21,"t":7.83},{"r":21,"t":7.97},{"r":21,"t":8.11},{"r":21,"t":8.25},{"r":21,"t":8.39},{"r":21,"t":8.53},{"r":21,"t":8.67},{"r":21,"t":9.18},{"r":21,"t":9.33},{"r":21,"t":9.55},
{"r":22,"t":-9.0},{"r":22,"t":-5.16},{"r":22,"t":-3.09},{"r":22,"t":-0.13},{"r":22,"t":1.05},{"r":22,"t":1.19},{"r":22,"t":1.33},{"r":22,"t":1.47},{"r":22,"t":1.61},{"r":22,"t":1.75},{"r":22,"t":1.89},{"r":22,"t":2.03},{"r":22,"t":2.17},{"r":22,"t":2.68},{"r":22,"t":3.41},{"r":22,"t":3.55},{"r":22,"t":3.69},{"r":22,"t":3.83},{"r":22,"t":3.97},{"r":22,"t":4.11},{"r":22,"t":4.25},{"r":22,"t":4.39},{"r":22,"t":4.53},{"r":22,"t":4.67},{"r":22,"t":4.81},{"r":22,"t":4.95},{"r":22,"t":5.09},{"r":22,"t":5.23},{"r":22,"t":5.37},{"r":22,"t":5.51},{"r":22,"t":5.65},{"r":22,"t":5.79},{"r":22,"t":5.93},{"r":22,"t":6.07},{"r":22,"t":6.21},{"r":22,"t":6.35},{"r":22,"t":6.49},{"r":22,"t":6.63},{"r":22,"t":6.77},{"r":22,"t":6.91},{"r":22,"t":7.05},{"r":22,"t":7.33},{"r":22,"t":7.47},{"r":22,"t":7.61},{"r":22,"t":7.75},{"r":22,"t":7.85},{"r":22,"t":8.07},{"r":22,"t":8.74},{"r":22,"t":8.88},{"r":22,"t":9.02},{"r":22,"t":9.16},{"r":22,"t":9.3},{"r":22,"t":9.44},{"r":22,"t":9.58},{"r":22,"t":9.72},{"r":22,"t":9.86},
{"r":23,"t":-9.98},{"r":23,"t":-9.85},{"r":23,"t":-6.71},{"r":23,"t":-6.49},{"r":23,"t":-5.75},{"r":23,"t":-2.2},{"r":23,"t":-0.43},{"r":23,"t":-0.21},{"r":23,"t":1.05},{"r":23,"t":1.19},{"r":23,"t":1.33},{"r":23,"t":1.47},{"r":23,"t":1.61},{"r":23,"t":1.75},{"r":23,"t":1.89},{"r":23,"t":2.03},{"r":23,"t":2.17},{"r":23,"t":2.53},{"r":23,"t":2.67},{"r":23,"t":2.81},{"r":23,"t":2.95},{"r":23,"t":3.09},{"r":23,"t":3.23},{"r":23,"t":3.37},{"r":23,"t":3.64},{"r":23,"t":3.78},{"r":23,"t":3.92},{"r":23,"t":4.06},{"r":23,"t":4.2},{"r":23,"t":4.89},{"r":23,"t":5.03},{"r":23,"t":5.17},{"r":23,"t":5.31},{"r":23,"t":5.45},{"r":23,"t":5.78},{"r":23,"t":5.92},{"r":23,"t":6.06},{"r":23,"t":6.2},{"r":23,"t":6.34},{"r":23,"t":6.48},{"r":23,"t":7.26},{"r":23,"t":7.41},{"r":23,"t":8.29},{"r":23,"t":8.44},{"r":23,"t":8.59},{"r":23,"t":9.33},
{"r":24,"t":-9.98},{"r":24,"t":-9.85},{"r":24,"t":-6.27},{"r":24,"t":-5.45},{"r":24,"t":-5.09},{"r":24,"t":-4.05},{"r":24,"t":-1.61},{"r":24,"t":-0.58},{"r":24,"t":1.05},{"r":24,"t":1.19},{"r":24,"t":1.33},{"r":24,"t":1.47},{"r":24,"t":1.61},{"r":24,"t":2.01},{"r":24,"t":2.16},{"r":24,"t":2.31},{"r":24,"t":2.68},{"r":24,"t":2.82},{"r":24,"t":2.97},{"r":24,"t":3.12},{"r":24,"t":3.34},{"r":24,"t":3.48},{"r":24,"t":3.62},{"r":24,"t":3.76},{"r":24,"t":3.9},{"r":24,"t":4.04},{"r":24,"t":4.18},{"r":24,"t":4.32},{"r":24,"t":4.46},{"r":24,"t":4.6},{"r":24,"t":4.74},{"r":24,"t":4.88},{"r":24,"t":5.02},{"r":24,"t":5.16},{"r":24,"t":5.3},{"r":24,"t":5.44},{"r":24,"t":5.58},{"r":24,"t":5.72},{"r":24,"t":5.86},{"r":24,"t":6.0},{"r":24,"t":6.14},{"r":24,"t":6.28},{"r":24,"t":6.42},{"r":24,"t":6.81},{"r":24,"t":6.96},{"r":24,"t":7.11},{"r":24,"t":7.55},{"r":24,"t":7.7},{"r":24,"t":7.85},{"r":24,"t":8.44},{"r":24,"t":8.59},{"r":24,"t":9.33},
{"r":25,"t":-9.52},{"r":25,"t":-9.37},{"r":25,"t":-9.2},{"r":25,"t":-9.0},{"r":25,"t":-6.86},{"r":25,"t":-2.79},{"r":25,"t":-2.35},{"r":25,"t":-1.83},{"r":25,"t":-1.69},{"r":25,"t":-1.55},{"r":25,"t":-1.39},{"r":25,"t":-1.24},{"r":25,"t":0.31},{"r":25,"t":1.05},{"r":25,"t":1.19},{"r":25,"t":1.33},{"r":25,"t":1.47},{"r":25,"t":1.61},{"r":25,"t":1.75},{"r":25,"t":1.89},{"r":25,"t":2.03},{"r":25,"t":2.17},{"r":25,"t":2.31},{"r":25,"t":2.45},{"r":25,"t":2.59},{"r":25,"t":2.73},{"r":25,"t":2.87},{"r":25,"t":3.01},{"r":25,"t":3.15},{"r":25,"t":3.29},{"r":25,"t":3.43},{"r":25,"t":3.57},{"r":25,"t":3.71},{"r":25,"t":3.85},{"r":25,"t":3.99},{"r":25,"t":4.13},{"r":25,"t":4.27},{"r":25,"t":4.89},{"r":25,"t":5.03},{"r":25,"t":5.17},{"r":25,"t":5.31},{"r":25,"t":5.45},{"r":25,"t":5.59},{"r":25,"t":5.73},{"r":25,"t":5.87},{"r":25,"t":6.01},{"r":25,"t":6.15},{"r":25,"t":6.67},{"r":25,"t":6.81},{"r":25,"t":6.95},{"r":25,"t":7.09},{"r":25,"t":7.23},{"r":25,"t":7.7},{"r":25,"t":8.14},{"r":25,"t":9.33},
{"r":26,"t":-9.98},{"r":26,"t":-8.19},{"r":26,"t":-4.86},{"r":26,"t":-2.35},{"r":26,"t":-2.2},{"r":26,"t":-2.05},{"r":26,"t":-1.46},{"r":26,"t":-1.32},{"r":26,"t":-1.24},{"r":26,"t":-0.21},{"r":26,"t":1.05},{"r":26,"t":1.19},{"r":26,"t":1.33},{"r":26,"t":1.47},{"r":26,"t":1.61},{"r":26,"t":1.75},{"r":26,"t":1.89},{"r":26,"t":2.03},{"r":26,"t":2.17},{"r":26,"t":2.31},{"r":26,"t":2.45},{"r":26,"t":2.59},{"r":26,"t":2.73},{"r":26,"t":2.87},{"r":26,"t":3.01},{"r":26,"t":3.15},{"r":26,"t":3.29},{"r":26,"t":3.43},{"r":26,"t":3.57},{"r":26,"t":3.71},{"r":26,"t":3.85},{"r":26,"t":3.99},{"r":26,"t":4.13},{"r":26,"t":4.89},{"r":26,"t":5.03},{"r":26,"t":5.17},{"r":26,"t":5.31},{"r":26,"t":5.45},{"r":26,"t":5.59},{"r":26,"t":5.73},{"r":26,"t":5.87},{"r":26,"t":6.01},{"r":26,"t":6.15},{"r":26,"t":6.29},{"r":26,"t":6.43},{"r":26,"t":6.57},{"r":26,"t":6.71},{"r":26,"t":6.85},{"r":26,"t":6.99},{"r":26,"t":7.13},{"r":26,"t":7.26},{"r":26,"t":8.44},{"r":26,"t":9.03},
{"r":27,"t":-7.26},{"r":27,"t":-6.34},{"r":27,"t":-4.45},{"r":27,"t":-2.05},{"r":27,"t":0.46},{"r":27,"t":1.05},{"r":27,"t":1.19},{"r":27,"t":1.33},{"r":27,"t":1.47},{"r":27,"t":1.61},{"r":27,"t":1.75},{"r":27,"t":1.89},{"r":27,"t":2.03},{"r":27,"t":2.17},{"r":27,"t":2.31},{"r":27,"t":2.68},{"r":27,"t":2.82},{"r":27,"t":2.96},{"r":27,"t":3.1},{"r":27,"t":3.24},{"r":27,"t":3.38},{"r":27,"t":3.52},{"r":27,"t":3.66},{"r":27,"t":3.8},{"r":27,"t":3.94},{"r":27,"t":4.08},{"r":27,"t":4.22},{"r":27,"t":4.36},{"r":27,"t":4.5},{"r":27,"t":4.64},{"r":27,"t":4.75},{"r":27,"t":4.97},{"r":27,"t":5.11},{"r":27,"t":5.25},{"r":27,"t":5.39},{"r":27,"t":5.53},{"r":27,"t":5.67},{"r":27,"t":5.81},{"r":27,"t":5.95},{"r":27,"t":6.09},{"r":27,"t":6.23},{"r":27,"t":6.37},{"r":27,"t":6.52},{"r":27,"t":6.67},{"r":27,"t":6.81},{"r":27,"t":6.89},{"r":27,"t":8.88},{"r":27,"t":9.02},{"r":27,"t":9.16},{"r":27,"t":9.3},{"r":27,"t":9.44},{"r":27,"t":9.58},{"r":27,"t":9.72},{"r":27,"t":9.86}]
},
"columns":2,
"spacing":{"row":93,"column":80},
"bounds":"flush",
"concat":[
{"width":450,"height":363,"title":{"text":"A","frame":"group","dx":-57,"offset":-1},
"layer":[
{"data":{"name":"rA"},"mark":{"type":"tick","orient":"vertical","thickness":2.3,"size":5.5,"color":"black","opacity":1},
"encoding":{"x":{"field":"t","type":"quantitative","scale":{"domain":[-10,10],"nice":false},"axis":null},"y":{"field":"r","type":"quantitative","scale":{"domain":[0.554,54.57],"reverse":true,"nice":false,"zero":false},"axis":null}}},
{"data":{"name":"hA"},"mark":{"type":"area","interpolate":"step-after","color":"black","opacity":1},
"encoding":{"x":{"field":"t","type":"quantitative","scale":{"domain":[-10,10],"nice":false},"axis":{"title":null,"values":[-10,-9,-8,-7,-6,-5,-4,-3,-2,-1,0,1,2,3,4,5,6,7,8,9,10],"labelExpr":"datum.value==-10?'-10':datum.value==0?'R':datum.value==5?'SEC':datum.value==10?'10':''"}},
"y":{"field":"h","type":"quantitative","scale":{"domain":[0,48.4],"nice":false},"axis":{"title":null,"values":[11,22],"labelExpr":"datum.value==22?'22':''"}}}},
{"data":{"values":[{}]},"mark":{"type":"rule","strokeWidth":2.5,"color":"black"},"encoding":{"x":{"datum":-10,"type":"quantitative","axis":null},"y":{"datum":0,"type":"quantitative","scale":{"domain":[0,48.4],"nice":false},"axis":null},"y2":{"datum":22}}},
{"data":{"values":[{}]},"mark":{"type":"rule","strokeWidth":2.6,"strokeDash":[2.4,2],"color":"black"},"encoding":{"x":{"datum":0,"type":"quantitative","axis":null}}},
{"data":{"values":[{}]},"mark":{"type":"text","align":"left","baseline":"alphabetic","fontSize":17,"lineHeight":18,"color":"black"},"encoding":{"x":{"datum":-8.46,"type":"quantitative","axis":null},"y":{"datum":19.3,"type":"quantitative","scale":{"domain":[0,48.4],"nice":false},"axis":null},"text":{"value":["Cell 1","Water"]}}},
{"data":{"values":[{}]},"mark":{"type":"text","align":"right","baseline":"middle","fontSize":18,"color":"black"},"encoding":{"x":{"datum":-10.62,"type":"quantitative","axis":null},"y":{"datum":12.9,"type":"quantitative","scale":{"domain":[0,48.4],"nice":false},"axis":null},"text":{"value":"Hz"}}}
],
"resolve":{"scale":{"y":"independent"},"axis":{"x":"independent","y":"independent"}}},
{"width":450,"height":363,"title":{"text":"C","frame":"group","dx":-33,"offset":-1},
"layer":[
{"data":{"name":"rC"},"mark":{"type":"tick","orient":"vertical","thickness":2.3,"size":5.5,"color":"black","opacity":1},
"encoding":{"x":{"field":"t","type":"quantitative","scale":{"domain":[-10,10],"nice":false},"axis":null},"y":{"field":"r","type":"quantitative","scale":{"domain":[0.162,48.43],"reverse":true,"nice":false,"zero":false},"axis":null}}},
{"data":{"name":"hC"},"mark":{"type":"area","interpolate":"step-after","color":"black","opacity":1},
"encoding":{"x":{"field":"t","type":"quantitative","scale":{"domain":[-10,10],"nice":false},"axis":{"title":null,"values":[-10,-9,-8,-7,-6,-5,-4,-3,-2,-1,0,1,2,3,4,5,6,7,8,9,10],"labelExpr":"datum.value==-10?'-10':datum.value==0?'R':datum.value==5?'SEC':datum.value==10?'10':''"}},
"y":{"field":"h","type":"quantitative","scale":{"domain":[0,48.4],"nice":false},"axis":{"title":null,"values":[11,22],"labelExpr":"datum.value==22?'22':''"}}}},
{"data":{"values":[{}]},"mark":{"type":"rule","strokeWidth":2.5,"color":"black"},"encoding":{"x":{"datum":-10,"type":"quantitative","axis":null},"y":{"datum":0,"type":"quantitative","scale":{"domain":[0,48.4],"nice":false},"axis":null},"y2":{"datum":22}}},
{"data":{"values":[{}]},"mark":{"type":"rule","strokeWidth":2.6,"strokeDash":[2.4,2],"color":"black"},"encoding":{"x":{"datum":0,"type":"quantitative","axis":null}}},
{"data":{"values":[{}]},"mark":{"type":"text","align":"left","baseline":"alphabetic","fontSize":17,"lineHeight":18,"color":"black"},"encoding":{"x":{"datum":-8.65,"type":"quantitative","axis":null},"y":{"datum":18.9,"type":"quantitative","scale":{"domain":[0,48.4],"nice":false},"axis":null},"text":{"value":["Cell 2","Water"]}}}
],
"resolve":{"scale":{"y":"independent"},"axis":{"x":"independent","y":"independent"}}},
{"width":450,"height":363,"title":{"text":"B","frame":"group","dx":-57,"offset":-1},
"layer":[
{"data":{"name":"rB"},"mark":{"type":"tick","orient":"vertical","thickness":2.3,"size":7,"color":"black","opacity":1},
"encoding":{"x":{"field":"t","type":"quantitative","scale":{"domain":[-10,10],"nice":false},"axis":null},"y":{"field":"r","type":"quantitative","scale":{"domain":[0.114,32.27],"reverse":true,"nice":false,"zero":false},"axis":null}}},
{"data":{"name":"hB"},"mark":{"type":"area","interpolate":"step-after","color":"black","opacity":1},
"encoding":{"x":{"field":"t","type":"quantitative","scale":{"domain":[-10,10],"nice":false},"axis":{"title":null,"values":[-10,-9,-8,-7,-6,-5,-4,-3,-2,-1,0,1,2,3,4,5,6,7,8,9,10],"labelExpr":"datum.value==-10?'-10':datum.value==-5?'-5':datum.value==0?'R':datum.value==5?'5':datum.value==10?'10':''"}},
"y":{"field":"h","type":"quantitative","scale":{"domain":[0,48.4],"nice":false},"axis":{"title":null,"values":[11,22],"labelExpr":"datum.value==22?'22':''"}}}},
{"data":{"values":[{}]},"mark":{"type":"rule","strokeWidth":2.5,"color":"black"},"encoding":{"x":{"datum":-10,"type":"quantitative","axis":null},"y":{"datum":0,"type":"quantitative","scale":{"domain":[0,48.4],"nice":false},"axis":null},"y2":{"datum":22}}},
{"data":{"values":[{}]},"mark":{"type":"rule","strokeWidth":2.6,"strokeDash":[2.4,2],"color":"black"},"encoding":{"x":{"datum":0,"type":"quantitative","axis":null}}},
{"data":{"values":[{}]},"mark":{"type":"rule","strokeWidth":3,"color":"black"},"encoding":{"x":{"datum":0,"type":"quantitative","axis":null},"x2":{"datum":6},"y":{"datum":-6.8,"type":"quantitative","scale":{"domain":[0,48.4],"nice":false},"axis":null}}},
{"data":{"values":[{}]},"mark":{"type":"text","align":"center","baseline":"top","fontSize":18,"color":"black"},"encoding":{"x":{"datum":7.6,"type":"quantitative","axis":null},"y":{"datum":-2.27,"type":"quantitative","scale":{"domain":[0,48.4],"nice":false},"axis":null},"text":{"value":"SEC"}}},
{"data":{"values":[{}]},"mark":{"type":"text","align":"left","baseline":"alphabetic","fontSize":17,"lineHeight":18,"color":"black"},"encoding":{"x":{"datum":-8.28,"type":"quantitative","axis":null},"y":{"datum":18.5,"type":"quantitative","scale":{"domain":[0,48.4],"nice":false},"axis":null},"text":{"value":["Cell 1","Cocaine"]}}},
{"data":{"values":[{}]},"mark":{"type":"text","align":"right","baseline":"middle","fontSize":18,"color":"black"},"encoding":{"x":{"datum":-10.62,"type":"quantitative","axis":null},"y":{"datum":13.1,"type":"quantitative","scale":{"domain":[0,48.4],"nice":false},"axis":null},"text":{"value":"Hz"}}}
],
"resolve":{"scale":{"y":"independent"},"axis":{"x":"independent","y":"independent"}}},
{"width":450,"height":363,"title":{"text":"D","frame":"group","dx":-33,"offset":-1},
"layer":[
{"data":{"name":"rD"},"mark":{"type":"tick","orient":"vertical","thickness":2.3,"size":6.5,"color":"black","opacity":1},
"encoding":{"x":{"field":"t","type":"quantitative","scale":{"domain":[-10,10],"nice":false},"axis":null},"y":{"field":"r","type":"quantitative","scale":{"domain":[0.23,36.53],"reverse":true,"nice":false,"zero":false},"axis":null}}},
{"data":{"name":"hD"},"mark":{"type":"area","interpolate":"step-after","color":"black","opacity":1},
"encoding":{"x":{"field":"t","type":"quantitative","scale":{"domain":[-10,10],"nice":false},"axis":{"title":null,"values":[-10,-9,-8,-7,-6,-5,-4,-3,-2,-1,0,1,2,3,4,5,6,7,8,9,10],"labelExpr":"datum.value==-10?'-10':datum.value==-5?'-5':datum.value==0?'R':datum.value==5?'5':datum.value==10?'10':''"}},
"y":{"field":"h","type":"quantitative","scale":{"domain":[0,48.4],"nice":false},"axis":{"title":null,"values":[11,22],"labels":false}}}},
{"data":{"values":[{}]},"mark":{"type":"rule","strokeWidth":2.5,"color":"black"},"encoding":{"x":{"datum":-10,"type":"quantitative","axis":null},"y":{"datum":0,"type":"quantitative","scale":{"domain":[0,48.4],"nice":false},"axis":null},"y2":{"datum":22}}},
{"data":{"values":[{}]},"mark":{"type":"rule","strokeWidth":2.6,"strokeDash":[2.4,2],"color":"black"},"encoding":{"x":{"datum":0,"type":"quantitative","axis":null}}},
{"data":{"values":[{}]},"mark":{"type":"rule","strokeWidth":3,"color":"black"},"encoding":{"x":{"datum":0,"type":"quantitative","axis":null},"x2":{"datum":6},"y":{"datum":-6.8,"type":"quantitative","scale":{"domain":[0,48.4],"nice":false},"axis":null}}},
{"data":{"values":[{}]},"mark":{"type":"text","align":"center","baseline":"top","fontSize":18,"color":"black"},"encoding":{"x":{"datum":7.6,"type":"quantitative","axis":null},"y":{"datum":-2.27,"type":"quantitative","scale":{"domain":[0,48.4],"nice":false},"axis":null},"text":{"value":"SEC"}}},
{"data":{"values":[{}]},"mark":{"type":"text","align":"left","baseline":"alphabetic","fontSize":17,"lineHeight":18,"color":"black"},"encoding":{"x":{"datum":-8.61,"type":"quantitative","axis":null},"y":{"datum":18.5,"type":"quantitative","scale":{"domain":[0,48.4],"nice":false},"axis":null},"text":{"value":["Cell 2","Cocaine"]}}}
],
"resolve":{"scale":{"y":"independent"},"axis":{"x":"independent","y":"independent"}}}
]
}
